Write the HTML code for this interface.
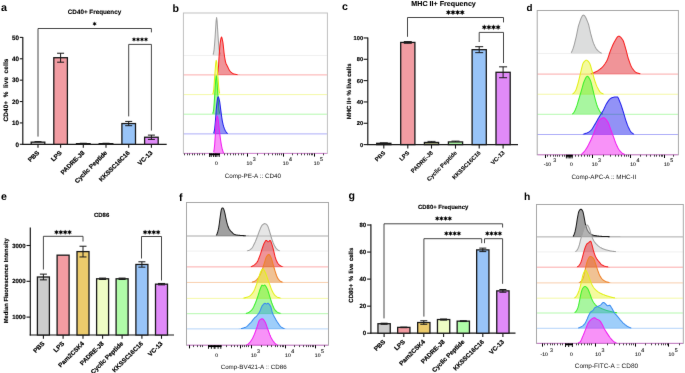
<!DOCTYPE html>
<html><head><meta charset="utf-8"><style>
html,body{margin:0;padding:0;background:#fff;}
svg{display:block;}
#w{width:685px;height:373px;overflow:hidden;}
text{font-family:"Liberation Sans", sans-serif;text-rendering:geometricPrecision;}
</style></head><body>
<div id="w"><svg width="685" height="373" viewBox="0 0 685 373">
<defs><filter id="bl" x="0" y="0" width="1" height="1" color-interpolation-filters="sRGB"><feConvolveMatrix order="3" kernelMatrix="0.0035 0.0587 0.0035 0.0587 1.0000 0.0587 0.0035 0.0587 0.0035" edgeMode="duplicate"/></filter></defs>
<g filter="url(#bl)">
<rect width="685" height="373" fill="#fff"/>
<text x="0.9" y="11.2" font-size="10.8" font-weight="bold" text-anchor="start" fill="#000" >a</text>
<text x="172.4" y="11.7" font-size="10.6" font-weight="bold" text-anchor="start" fill="#000" >b</text>
<text x="342" y="10" font-size="10.6" font-weight="bold" text-anchor="start" fill="#000" >c</text>
<text x="526.4" y="11.1" font-size="9.8" font-weight="bold" text-anchor="start" fill="#000" >d</text>
<text x="0.9" y="199.7" font-size="10.6" font-weight="bold" text-anchor="start" fill="#000" >e</text>
<text x="179" y="201" font-size="10.6" font-weight="bold" text-anchor="start" fill="#000" >f</text>
<text x="348.4" y="199.1" font-size="10.6" font-weight="bold" text-anchor="start" fill="#000" >g</text>
<text x="524" y="200" font-size="10.3" font-weight="bold" text-anchor="start" fill="#000" >h</text>
<line x1="22.8" y1="36.9" x2="22.8" y2="144.8" stroke="#1a1a1a" stroke-width="1.2" />
<line x1="19.8" y1="144.3" x2="22.8" y2="144.3" stroke="#1a1a1a" stroke-width="1.1" />
<text x="18.9" y="146.57" font-size="6.3" font-weight="bold" text-anchor="end" fill="#000" stroke="#000" stroke-width="0.15">0</text>
<line x1="19.8" y1="122.92" x2="22.8" y2="122.92" stroke="#1a1a1a" stroke-width="1.1" />
<text x="18.9" y="125.19" font-size="6.3" font-weight="bold" text-anchor="end" fill="#000" stroke="#000" stroke-width="0.15">10</text>
<line x1="19.8" y1="101.54" x2="22.8" y2="101.54" stroke="#1a1a1a" stroke-width="1.1" />
<text x="18.9" y="103.81" font-size="6.3" font-weight="bold" text-anchor="end" fill="#000" stroke="#000" stroke-width="0.15">20</text>
<line x1="19.8" y1="80.16" x2="22.8" y2="80.16" stroke="#1a1a1a" stroke-width="1.1" />
<text x="18.9" y="82.43" font-size="6.3" font-weight="bold" text-anchor="end" fill="#000" stroke="#000" stroke-width="0.15">30</text>
<line x1="19.8" y1="58.78" x2="22.8" y2="58.78" stroke="#1a1a1a" stroke-width="1.1" />
<text x="18.9" y="61.05" font-size="6.3" font-weight="bold" text-anchor="end" fill="#000" stroke="#000" stroke-width="0.15">40</text>
<line x1="19.8" y1="37.4" x2="22.8" y2="37.4" stroke="#1a1a1a" stroke-width="1.1" />
<text x="18.9" y="39.67" font-size="6.3" font-weight="bold" text-anchor="end" fill="#000" stroke="#000" stroke-width="0.15">50</text>
<line x1="22.2" y1="144.3" x2="166.7" y2="144.3" stroke="#1a1a1a" stroke-width="1.2" />
<line x1="38" y1="144.3" x2="38" y2="147.7" stroke="#1a1a1a" stroke-width="1.1" />
<rect x="31.2" y="142.16" width="13.6" height="2.14" fill="#e4e4e4" stroke="#1a1a1a" stroke-width="1.3"/>
<line x1="38" y1="141.52" x2="38" y2="142.16" stroke="#1a1a1a" stroke-width="0.9" />
<line x1="34.5" y1="141.52" x2="41.5" y2="141.52" stroke="#1a1a1a" stroke-width="0.9" />
<text transform="translate(39.6,153.2) rotate(-45)" font-size="6.3" font-weight="bold" text-anchor="end" stroke="#000" stroke-width="0.18">PBS</text>
<line x1="60.6" y1="144.3" x2="60.6" y2="147.7" stroke="#1a1a1a" stroke-width="1.1" />
<rect x="53.8" y="57.71" width="13.6" height="86.59" fill="#f29ca2" stroke="#1a1a1a" stroke-width="1.3"/>
<line x1="60.6" y1="53.22" x2="60.6" y2="62.2" stroke="#1a1a1a" stroke-width="1" />
<line x1="57.1" y1="53.22" x2="64.1" y2="53.22" stroke="#1a1a1a" stroke-width="1" />
<line x1="57.1" y1="62.2" x2="64.1" y2="62.2" stroke="#1a1a1a" stroke-width="1" />
<text transform="translate(62.2,153.2) rotate(-45)" font-size="6.3" font-weight="bold" text-anchor="end" stroke="#000" stroke-width="0.18">LPS</text>
<line x1="83.3" y1="144.3" x2="83.3" y2="147.7" stroke="#1a1a1a" stroke-width="1.1" />
<rect x="76.5" y="143.66" width="13.6" height="0.64" fill="#eee" stroke="#1a1a1a" stroke-width="1.3"/>
<line x1="83.3" y1="143.23" x2="83.3" y2="143.66" stroke="#1a1a1a" stroke-width="0.9" />
<line x1="79.8" y1="143.23" x2="86.8" y2="143.23" stroke="#1a1a1a" stroke-width="0.9" />
<text transform="translate(84.9,153.2) rotate(-45)" font-size="6.3" font-weight="bold" text-anchor="end" stroke="#000" stroke-width="0.18">PADRE-J8</text>
<line x1="106" y1="144.3" x2="106" y2="147.7" stroke="#1a1a1a" stroke-width="1.1" />
<rect x="99.2" y="143.66" width="13.6" height="0.64" fill="#eee" stroke="#1a1a1a" stroke-width="1.3"/>
<line x1="106" y1="143.23" x2="106" y2="143.66" stroke="#1a1a1a" stroke-width="0.9" />
<line x1="102.5" y1="143.23" x2="109.5" y2="143.23" stroke="#1a1a1a" stroke-width="0.9" />
<text transform="translate(107.6,153.2) rotate(-45)" font-size="6.3" font-weight="bold" text-anchor="end" stroke="#000" stroke-width="0.18">Cyclic Peptide</text>
<line x1="128.7" y1="144.3" x2="128.7" y2="147.7" stroke="#1a1a1a" stroke-width="1.1" />
<rect x="121.9" y="123.56" width="13.6" height="20.74" fill="#98c4f8" stroke="#1a1a1a" stroke-width="1.3"/>
<line x1="128.7" y1="121.42" x2="128.7" y2="125.7" stroke="#1a1a1a" stroke-width="1" />
<line x1="125.2" y1="121.42" x2="132.2" y2="121.42" stroke="#1a1a1a" stroke-width="1" />
<line x1="125.2" y1="125.7" x2="132.2" y2="125.7" stroke="#1a1a1a" stroke-width="1" />
<text transform="translate(130.3,153.2) rotate(-45)" font-size="6.3" font-weight="bold" text-anchor="end" stroke="#000" stroke-width="0.18">KKSSC16C16</text>
<line x1="151.4" y1="144.3" x2="151.4" y2="147.7" stroke="#1a1a1a" stroke-width="1.1" />
<rect x="144.6" y="137.24" width="13.6" height="7.06" fill="#e08af8" stroke="#1a1a1a" stroke-width="1.3"/>
<line x1="151.4" y1="135.11" x2="151.4" y2="139.38" stroke="#1a1a1a" stroke-width="1" />
<line x1="147.9" y1="135.11" x2="154.9" y2="135.11" stroke="#1a1a1a" stroke-width="1" />
<line x1="147.9" y1="139.38" x2="154.9" y2="139.38" stroke="#1a1a1a" stroke-width="1" />
<text transform="translate(153,153.2) rotate(-45)" font-size="6.3" font-weight="bold" text-anchor="end" stroke="#000" stroke-width="0.18">VC-13</text>
<polyline points="38,136.6 38,28.5 151.4,28.5 151.4,32.4" fill="none" stroke="#333" stroke-width="0.9"/>
<path d="M94.6,21.8L94.12,22.97L92.87,22.8L93.64,23.8L92.87,24.8L94.12,24.63L94.6,25.8L95.08,24.63L96.33,24.8L95.56,23.8L96.33,22.8L95.08,22.97Z" fill="#000" stroke="#000" stroke-width="0.25"/>
<polyline points="128.7,116.4 128.7,44.4 151.4,44.4 151.4,130.6" fill="none" stroke="#333" stroke-width="0.9"/>
<path d="M134,37.4L133.52,38.57L132.27,38.4L133.04,39.4L132.27,40.4L133.52,40.23L134,41.4L134.48,40.23L135.73,40.4L134.96,39.4L135.73,38.4L134.48,38.57ZM138,37.4L137.52,38.57L136.27,38.4L137.04,39.4L136.27,40.4L137.52,40.23L138,41.4L138.48,40.23L139.73,40.4L138.96,39.4L139.73,38.4L138.48,38.57ZM142,37.4L141.52,38.57L140.27,38.4L141.04,39.4L140.27,40.4L141.52,40.23L142,41.4L142.48,40.23L143.73,40.4L142.96,39.4L143.73,38.4L142.48,38.57ZM146,37.4L145.52,38.57L144.27,38.4L145.04,39.4L144.27,40.4L145.52,40.23L146,41.4L146.48,40.23L147.73,40.4L146.96,39.4L147.73,38.4L146.48,38.57Z" fill="#000" stroke="#000" stroke-width="0.25"/>
<text x="94.5" y="14.3" font-size="6.3" font-weight="bold" text-anchor="middle" fill="#000" stroke="#000" stroke-width="0.12">CD40+ Frequency</text>
<text transform="translate(8.1,90) rotate(-90)" font-size="6.4" font-weight="bold" text-anchor="middle" stroke="#000" stroke-width="0.15" word-spacing="1.5" letter-spacing="0.15">CD40+ % live cells</text>
<line x1="367.8" y1="37.4" x2="367.8" y2="145.1" stroke="#1a1a1a" stroke-width="1.2" />
<line x1="363.6" y1="144.6" x2="367.8" y2="144.6" stroke="#1a1a1a" stroke-width="1.1" />
<text x="363.1" y="146.65" font-size="5.7" font-weight="bold" text-anchor="end" fill="#000" stroke="#000" stroke-width="0.15">0</text>
<line x1="363.6" y1="123.27" x2="367.8" y2="123.27" stroke="#1a1a1a" stroke-width="1.1" />
<text x="363.1" y="125.32" font-size="5.7" font-weight="bold" text-anchor="end" fill="#000" stroke="#000" stroke-width="0.15">20</text>
<line x1="363.6" y1="101.94" x2="367.8" y2="101.94" stroke="#1a1a1a" stroke-width="1.1" />
<text x="363.1" y="103.99" font-size="5.7" font-weight="bold" text-anchor="end" fill="#000" stroke="#000" stroke-width="0.15">40</text>
<line x1="363.6" y1="80.61" x2="367.8" y2="80.61" stroke="#1a1a1a" stroke-width="1.1" />
<text x="363.1" y="82.66" font-size="5.7" font-weight="bold" text-anchor="end" fill="#000" stroke="#000" stroke-width="0.15">60</text>
<line x1="363.6" y1="59.28" x2="367.8" y2="59.28" stroke="#1a1a1a" stroke-width="1.1" />
<text x="363.1" y="61.33" font-size="5.7" font-weight="bold" text-anchor="end" fill="#000" stroke="#000" stroke-width="0.15">80</text>
<line x1="363.6" y1="37.95" x2="367.8" y2="37.95" stroke="#1a1a1a" stroke-width="1.1" />
<text x="363.1" y="40" font-size="5.7" font-weight="bold" text-anchor="end" fill="#000" stroke="#000" stroke-width="0.15">100</text>
<line x1="367.2" y1="144.6" x2="518" y2="144.6" stroke="#1a1a1a" stroke-width="1.2" />
<line x1="383.8" y1="144.6" x2="383.8" y2="148.6" stroke="#1a1a1a" stroke-width="1.1" />
<rect x="376.7" y="143.32" width="14.2" height="1.28" fill="#e4e4e4" stroke="#1a1a1a" stroke-width="1.3"/>
<line x1="383.8" y1="142.79" x2="383.8" y2="143.32" stroke="#1a1a1a" stroke-width="0.9" />
<line x1="379.8" y1="142.79" x2="387.8" y2="142.79" stroke="#1a1a1a" stroke-width="0.9" />
<text transform="translate(385.7,153.2) rotate(-45)" font-size="5.85" font-weight="bold" text-anchor="end" stroke="#000" stroke-width="0.08">PBS</text>
<line x1="407.8" y1="144.6" x2="407.8" y2="148.6" stroke="#1a1a1a" stroke-width="1.1" />
<rect x="400.7" y="42.43" width="14.2" height="102.17" fill="#f29ca2" stroke="#1a1a1a" stroke-width="1.3"/>
<line x1="407.8" y1="41.58" x2="407.8" y2="43.28" stroke="#1a1a1a" stroke-width="1" />
<line x1="403.8" y1="41.58" x2="411.8" y2="41.58" stroke="#1a1a1a" stroke-width="1" />
<line x1="403.8" y1="43.28" x2="411.8" y2="43.28" stroke="#1a1a1a" stroke-width="1" />
<text transform="translate(409.7,153.2) rotate(-45)" font-size="5.85" font-weight="bold" text-anchor="end" stroke="#000" stroke-width="0.08">LPS</text>
<line x1="431.5" y1="144.6" x2="431.5" y2="148.6" stroke="#1a1a1a" stroke-width="1.1" />
<rect x="424.4" y="142.47" width="14.2" height="2.13" fill="#a8ac80" stroke="#1a1a1a" stroke-width="1.3"/>
<line x1="431.5" y1="141.4" x2="431.5" y2="142.47" stroke="#1a1a1a" stroke-width="0.9" />
<line x1="427.5" y1="141.4" x2="435.5" y2="141.4" stroke="#1a1a1a" stroke-width="0.9" />
<text transform="translate(433.4,153.2) rotate(-45)" font-size="5.85" font-weight="bold" text-anchor="end" stroke="#000" stroke-width="0.08">PADRE-J8</text>
<line x1="455.5" y1="144.6" x2="455.5" y2="148.6" stroke="#1a1a1a" stroke-width="1.1" />
<rect x="448.4" y="141.93" width="14.2" height="2.67" fill="#b0fca8" stroke="#1a1a1a" stroke-width="1.3"/>
<line x1="455.5" y1="141.08" x2="455.5" y2="141.93" stroke="#1a1a1a" stroke-width="0.9" />
<line x1="451.5" y1="141.08" x2="459.5" y2="141.08" stroke="#1a1a1a" stroke-width="0.9" />
<text transform="translate(457.4,153.2) rotate(-45)" font-size="5.85" font-weight="bold" text-anchor="end" stroke="#000" stroke-width="0.08">Cyclic Peptide</text>
<line x1="479.2" y1="144.6" x2="479.2" y2="148.6" stroke="#1a1a1a" stroke-width="1.1" />
<rect x="472.1" y="49.68" width="14.2" height="94.92" fill="#98c4f8" stroke="#1a1a1a" stroke-width="1.3"/>
<line x1="479.2" y1="46.7" x2="479.2" y2="52.67" stroke="#1a1a1a" stroke-width="1" />
<line x1="475.2" y1="46.7" x2="483.2" y2="46.7" stroke="#1a1a1a" stroke-width="1" />
<line x1="475.2" y1="52.67" x2="483.2" y2="52.67" stroke="#1a1a1a" stroke-width="1" />
<text transform="translate(481.1,153.2) rotate(-45)" font-size="5.85" font-weight="bold" text-anchor="end" stroke="#000" stroke-width="0.08">KKSSC16C16</text>
<line x1="503.1" y1="144.6" x2="503.1" y2="148.6" stroke="#1a1a1a" stroke-width="1.1" />
<rect x="496" y="72.29" width="14.2" height="72.31" fill="#e08af8" stroke="#1a1a1a" stroke-width="1.3"/>
<line x1="503.1" y1="66.85" x2="503.1" y2="77.73" stroke="#1a1a1a" stroke-width="1" />
<line x1="499.1" y1="66.85" x2="507.1" y2="66.85" stroke="#1a1a1a" stroke-width="1" />
<line x1="499.1" y1="77.73" x2="507.1" y2="77.73" stroke="#1a1a1a" stroke-width="1" />
<text transform="translate(505,153.2) rotate(-45)" font-size="5.85" font-weight="bold" text-anchor="end" stroke="#000" stroke-width="0.08">VC-13</text>
<polyline points="407.5,36.8 407.5,17.5 503.5,17.5 503.5,22.4" fill="none" stroke="#333" stroke-width="0.9"/>
<path d="M448.4,9.9L447.8,11.36L446.23,11.15L447.2,12.4L446.23,13.65L447.8,13.44L448.4,14.9L449,13.44L450.57,13.65L449.6,12.4L450.57,11.15L449,11.36ZM453,9.9L452.4,11.36L450.83,11.15L451.8,12.4L450.83,13.65L452.4,13.44L453,14.9L453.6,13.44L455.17,13.65L454.2,12.4L455.17,11.15L453.6,11.36ZM457.6,9.9L457,11.36L455.43,11.15L456.4,12.4L455.43,13.65L457,13.44L457.6,14.9L458.2,13.44L459.77,13.65L458.8,12.4L459.77,11.15L458.2,11.36ZM462.2,9.9L461.6,11.36L460.03,11.15L461,12.4L460.03,13.65L461.6,13.44L462.2,14.9L462.8,13.44L464.37,13.65L463.4,12.4L464.37,11.15L462.8,11.36Z" fill="#000" stroke="#000" stroke-width="0.25"/>
<polyline points="479.2,42 479.2,32.4 503.5,32.4 503.5,63" fill="none" stroke="#333" stroke-width="0.9"/>
<path d="M484.3,24.7L483.7,26.16L482.13,25.95L483.1,27.2L482.13,28.45L483.7,28.24L484.3,29.7L484.9,28.24L486.47,28.45L485.5,27.2L486.47,25.95L484.9,26.16ZM488.9,24.7L488.3,26.16L486.73,25.95L487.7,27.2L486.73,28.45L488.3,28.24L488.9,29.7L489.5,28.24L491.07,28.45L490.1,27.2L491.07,25.95L489.5,26.16ZM493.5,24.7L492.9,26.16L491.33,25.95L492.3,27.2L491.33,28.45L492.9,28.24L493.5,29.7L494.1,28.24L495.67,28.45L494.7,27.2L495.67,25.95L494.1,26.16ZM498.1,24.7L497.5,26.16L495.93,25.95L496.9,27.2L495.93,28.45L497.5,28.24L498.1,29.7L498.7,28.24L500.27,28.45L499.3,27.2L500.27,25.95L498.7,26.16Z" fill="#000" stroke="#000" stroke-width="0.25"/>
<text x="443.6" y="5.6" font-size="7.15" font-weight="bold" text-anchor="middle" fill="#000" stroke="#000" stroke-width="0.12">MHC II+ Frequency</text>
<text transform="translate(350.6,91.4) rotate(-90)" font-size="6" font-weight="bold" text-anchor="middle" stroke="#000" stroke-width="0.15" >MHC II+ % live cells</text>
<line x1="30.3" y1="227.5" x2="30.3" y2="335.5" stroke="#1a1a1a" stroke-width="1.2" />
<line x1="26.5" y1="317.1" x2="30.3" y2="317.1" stroke="#1a1a1a" stroke-width="1.1" />
<text x="25.5" y="319.26" font-size="6" font-weight="bold" text-anchor="end" fill="#000" stroke="#000" stroke-width="0.15">1000</text>
<line x1="26.5" y1="281.3" x2="30.3" y2="281.3" stroke="#1a1a1a" stroke-width="1.1" />
<text x="25.5" y="283.46" font-size="6" font-weight="bold" text-anchor="end" fill="#000" stroke="#000" stroke-width="0.15">2000</text>
<line x1="26.5" y1="245.5" x2="30.3" y2="245.5" stroke="#1a1a1a" stroke-width="1.1" />
<text x="25.5" y="247.66" font-size="6" font-weight="bold" text-anchor="end" fill="#000" stroke="#000" stroke-width="0.15">3000</text>
<line x1="29.7" y1="335" x2="174" y2="335" stroke="#1a1a1a" stroke-width="1.2" />
<line x1="43.4" y1="335" x2="43.4" y2="338.8" stroke="#1a1a1a" stroke-width="1.1" />
<rect x="37.4" y="277" width="12" height="58" fill="#cccccc" stroke="#1a1a1a" stroke-width="1.3"/>
<line x1="43.4" y1="274.14" x2="43.4" y2="279.87" stroke="#1a1a1a" stroke-width="1" />
<line x1="39.9" y1="274.14" x2="46.9" y2="274.14" stroke="#1a1a1a" stroke-width="1" />
<line x1="39.9" y1="279.87" x2="46.9" y2="279.87" stroke="#1a1a1a" stroke-width="1" />
<text transform="translate(45,344) rotate(-45)" font-size="6.3" font-weight="bold" text-anchor="end" stroke="#000" stroke-width="0.18">PBS</text>
<line x1="63.1" y1="335" x2="63.1" y2="338.8" stroke="#1a1a1a" stroke-width="1.1" />
<rect x="57.1" y="255.17" width="12" height="79.83" fill="#f29ca2" stroke="#1a1a1a" stroke-width="1.3"/>
<text transform="translate(64.7,344) rotate(-45)" font-size="6.3" font-weight="bold" text-anchor="end" stroke="#000" stroke-width="0.18">LPS</text>
<line x1="83" y1="335" x2="83" y2="338.8" stroke="#1a1a1a" stroke-width="1.1" />
<rect x="77" y="251.59" width="12" height="83.41" fill="#eccb6c" stroke="#1a1a1a" stroke-width="1.3"/>
<line x1="83" y1="246.22" x2="83" y2="256.96" stroke="#1a1a1a" stroke-width="1" />
<line x1="79.5" y1="246.22" x2="86.5" y2="246.22" stroke="#1a1a1a" stroke-width="1" />
<line x1="79.5" y1="256.96" x2="86.5" y2="256.96" stroke="#1a1a1a" stroke-width="1" />
<text transform="translate(84.6,344) rotate(-45)" font-size="6.3" font-weight="bold" text-anchor="end" stroke="#000" stroke-width="0.18">Pam2CSK4</text>
<line x1="102.6" y1="335" x2="102.6" y2="338.8" stroke="#1a1a1a" stroke-width="1.1" />
<rect x="96.6" y="278.79" width="12" height="56.21" fill="#eefcc4" stroke="#1a1a1a" stroke-width="1.3"/>
<line x1="102.6" y1="278.08" x2="102.6" y2="279.51" stroke="#1a1a1a" stroke-width="1" />
<line x1="99.1" y1="278.08" x2="106.1" y2="278.08" stroke="#1a1a1a" stroke-width="1" />
<line x1="99.1" y1="279.51" x2="106.1" y2="279.51" stroke="#1a1a1a" stroke-width="1" />
<text transform="translate(104.2,344) rotate(-45)" font-size="6.3" font-weight="bold" text-anchor="end" stroke="#000" stroke-width="0.18">PADRE-J8</text>
<line x1="122.1" y1="335" x2="122.1" y2="338.8" stroke="#1a1a1a" stroke-width="1.1" />
<rect x="116.1" y="278.79" width="12" height="56.21" fill="#b0fca8" stroke="#1a1a1a" stroke-width="1.3"/>
<line x1="122.1" y1="278.08" x2="122.1" y2="279.51" stroke="#1a1a1a" stroke-width="1" />
<line x1="118.6" y1="278.08" x2="125.6" y2="278.08" stroke="#1a1a1a" stroke-width="1" />
<line x1="118.6" y1="279.51" x2="125.6" y2="279.51" stroke="#1a1a1a" stroke-width="1" />
<text transform="translate(123.7,344) rotate(-45)" font-size="6.3" font-weight="bold" text-anchor="end" stroke="#000" stroke-width="0.18">Cyclic Peptide</text>
<line x1="141.9" y1="335" x2="141.9" y2="338.8" stroke="#1a1a1a" stroke-width="1.1" />
<rect x="135.9" y="264.47" width="12" height="70.53" fill="#98c4f8" stroke="#1a1a1a" stroke-width="1.3"/>
<line x1="141.9" y1="261.79" x2="141.9" y2="267.16" stroke="#1a1a1a" stroke-width="1" />
<line x1="138.4" y1="261.79" x2="145.4" y2="261.79" stroke="#1a1a1a" stroke-width="1" />
<line x1="138.4" y1="267.16" x2="145.4" y2="267.16" stroke="#1a1a1a" stroke-width="1" />
<text transform="translate(143.5,344) rotate(-45)" font-size="6.3" font-weight="bold" text-anchor="end" stroke="#000" stroke-width="0.18">KKSSC16C16</text>
<line x1="161.5" y1="335" x2="161.5" y2="338.8" stroke="#1a1a1a" stroke-width="1.1" />
<rect x="155.5" y="284.16" width="12" height="50.84" fill="#e08af8" stroke="#1a1a1a" stroke-width="1.3"/>
<line x1="161.5" y1="283.45" x2="161.5" y2="284.88" stroke="#1a1a1a" stroke-width="1" />
<line x1="158" y1="283.45" x2="165" y2="283.45" stroke="#1a1a1a" stroke-width="1" />
<line x1="158" y1="284.88" x2="165" y2="284.88" stroke="#1a1a1a" stroke-width="1" />
<text transform="translate(163.1,344) rotate(-45)" font-size="6.3" font-weight="bold" text-anchor="end" stroke="#000" stroke-width="0.18">VC-13</text>
<polyline points="43.4,269.5 43.4,236.3 83,236.3 83,241.5" fill="none" stroke="#333" stroke-width="0.9"/>
<path d="M56.48,229.9L55.92,231.24L54.48,231.05L55.37,232.2L54.48,233.35L55.92,233.16L56.48,234.5L57.03,233.16L58.47,233.35L57.58,232.2L58.47,231.05L57.03,231.24ZM60.83,229.9L60.27,231.24L58.83,231.05L59.72,232.2L58.83,233.35L60.27,233.16L60.83,234.5L61.38,233.16L62.82,233.35L61.93,232.2L62.82,231.05L61.38,231.24ZM65.17,229.9L64.62,231.24L63.18,231.05L64.07,232.2L63.18,233.35L64.62,233.16L65.17,234.5L65.73,233.16L67.17,233.35L66.28,232.2L67.17,231.05L65.73,231.24ZM69.53,229.9L68.97,231.24L67.53,231.05L68.42,232.2L67.53,233.35L68.97,233.16L69.53,234.5L70.08,233.16L71.52,233.35L70.63,232.2L71.52,231.05L70.08,231.24Z" fill="#000" stroke="#000" stroke-width="0.25"/>
<polyline points="141.5,258.5 141.5,236.5 161.5,236.5 161.5,280.5" fill="none" stroke="#333" stroke-width="0.9"/>
<path d="M145.07,229.9L144.52,231.24L143.08,231.05L143.97,232.2L143.08,233.35L144.52,233.16L145.07,234.5L145.63,233.16L147.07,233.35L146.18,232.2L147.07,231.05L145.63,231.24ZM149.42,229.9L148.87,231.24L147.43,231.05L148.32,232.2L147.43,233.35L148.87,233.16L149.42,234.5L149.98,233.16L151.42,233.35L150.53,232.2L151.42,231.05L149.98,231.24ZM153.77,229.9L153.22,231.24L151.78,231.05L152.67,232.2L151.78,233.35L153.22,233.16L153.77,234.5L154.33,233.16L155.77,233.35L154.88,232.2L155.77,231.05L154.33,231.24ZM158.12,229.9L157.57,231.24L156.13,231.05L157.02,232.2L156.13,233.35L157.57,233.16L158.12,234.5L158.68,233.16L160.12,233.35L159.23,232.2L160.12,231.05L158.68,231.24Z" fill="#000" stroke="#000" stroke-width="0.25"/>
<text x="101.6" y="216.7" font-size="6" font-weight="bold" text-anchor="middle" fill="#000" stroke="#000" stroke-width="0.12">CD86</text>
<text transform="translate(8.1,280.8) rotate(-90)" font-size="5.85" font-weight="bold" text-anchor="middle" stroke="#000" stroke-width="0.15" >Median Fluorescence Intensity</text>
<line x1="370.9" y1="224.2" x2="370.9" y2="333.7" stroke="#1a1a1a" stroke-width="1.2" />
<line x1="367.1" y1="333.2" x2="370.9" y2="333.2" stroke="#1a1a1a" stroke-width="1.1" />
<text x="366.1" y="335.36" font-size="6" font-weight="bold" text-anchor="end" fill="#000" stroke="#000" stroke-width="0.15">0</text>
<line x1="367.1" y1="306.15" x2="370.9" y2="306.15" stroke="#1a1a1a" stroke-width="1.1" />
<text x="366.1" y="308.31" font-size="6" font-weight="bold" text-anchor="end" fill="#000" stroke="#000" stroke-width="0.15">20</text>
<line x1="367.1" y1="279.1" x2="370.9" y2="279.1" stroke="#1a1a1a" stroke-width="1.1" />
<text x="366.1" y="281.26" font-size="6" font-weight="bold" text-anchor="end" fill="#000" stroke="#000" stroke-width="0.15">40</text>
<line x1="367.1" y1="252.05" x2="370.9" y2="252.05" stroke="#1a1a1a" stroke-width="1.1" />
<text x="366.1" y="254.21" font-size="6" font-weight="bold" text-anchor="end" fill="#000" stroke="#000" stroke-width="0.15">60</text>
<line x1="367.1" y1="225" x2="370.9" y2="225" stroke="#1a1a1a" stroke-width="1.1" />
<text x="366.1" y="227.16" font-size="6" font-weight="bold" text-anchor="end" fill="#000" stroke="#000" stroke-width="0.15">80</text>
<line x1="370.3" y1="333.2" x2="515.5" y2="333.2" stroke="#1a1a1a" stroke-width="1.2" />
<line x1="384.1" y1="333.2" x2="384.1" y2="337" stroke="#1a1a1a" stroke-width="1.1" />
<rect x="377.95" y="323.73" width="12.3" height="9.47" fill="#cccccc" stroke="#1a1a1a" stroke-width="1.3"/>
<line x1="384.1" y1="323.19" x2="384.1" y2="324.27" stroke="#1a1a1a" stroke-width="1" />
<line x1="380.6" y1="323.19" x2="387.6" y2="323.19" stroke="#1a1a1a" stroke-width="1" />
<line x1="380.6" y1="324.27" x2="387.6" y2="324.27" stroke="#1a1a1a" stroke-width="1" />
<text transform="translate(385.7,342.2) rotate(-45)" font-size="6.3" font-weight="bold" text-anchor="end" stroke="#000" stroke-width="0.18">PBS</text>
<line x1="403.8" y1="333.2" x2="403.8" y2="337" stroke="#1a1a1a" stroke-width="1.1" />
<rect x="397.65" y="327.38" width="12.3" height="5.82" fill="#f29ca2" stroke="#1a1a1a" stroke-width="1.3"/>
<line x1="403.8" y1="327.11" x2="403.8" y2="327.65" stroke="#1a1a1a" stroke-width="1" />
<line x1="400.3" y1="327.11" x2="407.3" y2="327.11" stroke="#1a1a1a" stroke-width="1" />
<line x1="400.3" y1="327.65" x2="407.3" y2="327.65" stroke="#1a1a1a" stroke-width="1" />
<text transform="translate(405.4,342.2) rotate(-45)" font-size="6.3" font-weight="bold" text-anchor="end" stroke="#000" stroke-width="0.18">LPS</text>
<line x1="423.8" y1="333.2" x2="423.8" y2="337" stroke="#1a1a1a" stroke-width="1.1" />
<rect x="417.65" y="322.52" width="12.3" height="10.68" fill="#eccb6c" stroke="#1a1a1a" stroke-width="1.3"/>
<line x1="423.8" y1="320.76" x2="423.8" y2="324.27" stroke="#1a1a1a" stroke-width="1" />
<line x1="420.3" y1="320.76" x2="427.3" y2="320.76" stroke="#1a1a1a" stroke-width="1" />
<line x1="420.3" y1="324.27" x2="427.3" y2="324.27" stroke="#1a1a1a" stroke-width="1" />
<text transform="translate(425.4,342.2) rotate(-45)" font-size="6.3" font-weight="bold" text-anchor="end" stroke="#000" stroke-width="0.18">Pam2CSK4</text>
<line x1="443.6" y1="333.2" x2="443.6" y2="337" stroke="#1a1a1a" stroke-width="1.1" />
<rect x="437.45" y="319.54" width="12.3" height="13.66" fill="#eefcc4" stroke="#1a1a1a" stroke-width="1.3"/>
<line x1="443.6" y1="319" x2="443.6" y2="320.08" stroke="#1a1a1a" stroke-width="1" />
<line x1="440.1" y1="319" x2="447.1" y2="319" stroke="#1a1a1a" stroke-width="1" />
<line x1="440.1" y1="320.08" x2="447.1" y2="320.08" stroke="#1a1a1a" stroke-width="1" />
<text transform="translate(445.2,342.2) rotate(-45)" font-size="6.3" font-weight="bold" text-anchor="end" stroke="#000" stroke-width="0.18">PADRE-J8</text>
<line x1="463.3" y1="333.2" x2="463.3" y2="337" stroke="#1a1a1a" stroke-width="1.1" />
<rect x="457.15" y="321.16" width="12.3" height="12.04" fill="#b0fca8" stroke="#1a1a1a" stroke-width="1.3"/>
<line x1="463.3" y1="320.76" x2="463.3" y2="321.57" stroke="#1a1a1a" stroke-width="1" />
<line x1="459.8" y1="320.76" x2="466.8" y2="320.76" stroke="#1a1a1a" stroke-width="1" />
<line x1="459.8" y1="321.57" x2="466.8" y2="321.57" stroke="#1a1a1a" stroke-width="1" />
<text transform="translate(464.9,342.2) rotate(-45)" font-size="6.3" font-weight="bold" text-anchor="end" stroke="#000" stroke-width="0.18">Cyclic Peptide</text>
<line x1="482.8" y1="333.2" x2="482.8" y2="337" stroke="#1a1a1a" stroke-width="1.1" />
<rect x="476.65" y="249.89" width="12.3" height="83.31" fill="#98c4f8" stroke="#1a1a1a" stroke-width="1.3"/>
<line x1="482.8" y1="248.13" x2="482.8" y2="251.64" stroke="#1a1a1a" stroke-width="1" />
<line x1="479.3" y1="248.13" x2="486.3" y2="248.13" stroke="#1a1a1a" stroke-width="1" />
<line x1="479.3" y1="251.64" x2="486.3" y2="251.64" stroke="#1a1a1a" stroke-width="1" />
<text transform="translate(484.4,342.2) rotate(-45)" font-size="6.3" font-weight="bold" text-anchor="end" stroke="#000" stroke-width="0.18">KKSSC16C16</text>
<line x1="502.9" y1="333.2" x2="502.9" y2="337" stroke="#1a1a1a" stroke-width="1.1" />
<rect x="496.75" y="290.87" width="12.3" height="42.33" fill="#e08af8" stroke="#1a1a1a" stroke-width="1.3"/>
<line x1="502.9" y1="289.51" x2="502.9" y2="292.22" stroke="#1a1a1a" stroke-width="1" />
<line x1="499.4" y1="289.51" x2="506.4" y2="289.51" stroke="#1a1a1a" stroke-width="1" />
<line x1="499.4" y1="292.22" x2="506.4" y2="292.22" stroke="#1a1a1a" stroke-width="1" />
<text transform="translate(504.5,342.2) rotate(-45)" font-size="6.3" font-weight="bold" text-anchor="end" stroke="#000" stroke-width="0.18">VC-13</text>
<polyline points="384,318.4 384,223.8 502.6,223.8 502.6,227.5" fill="none" stroke="#333" stroke-width="0.9"/>
<path d="M437.2,216.3L436.67,217.59L435.29,217.4L436.14,218.5L435.29,219.6L436.67,219.41L437.2,220.7L437.73,219.41L439.11,219.6L438.26,218.5L439.11,217.4L437.73,217.59ZM441.4,216.3L440.87,217.59L439.49,217.4L440.34,218.5L439.49,219.6L440.87,219.41L441.4,220.7L441.93,219.41L443.31,219.6L442.46,218.5L443.31,217.4L441.93,217.59ZM445.6,216.3L445.07,217.59L443.69,217.4L444.54,218.5L443.69,219.6L445.07,219.41L445.6,220.7L446.13,219.41L447.51,219.6L446.66,218.5L447.51,217.4L446.13,217.59ZM449.8,216.3L449.27,217.59L447.89,217.4L448.74,218.5L447.89,219.6L449.27,219.41L449.8,220.7L450.33,219.41L451.71,219.6L450.86,218.5L451.71,217.4L450.33,217.59Z" fill="#000" stroke="#000" stroke-width="0.25"/>
<polyline points="423.9,316.6 423.9,238.7 481.7,238.7 481.7,243.2" fill="none" stroke="#333" stroke-width="0.9"/>
<path d="M446.3,231.3L445.77,232.59L444.39,232.4L445.24,233.5L444.39,234.6L445.77,234.41L446.3,235.7L446.83,234.41L448.21,234.6L447.36,233.5L448.21,232.4L446.83,232.59ZM450.5,231.3L449.97,232.59L448.59,232.4L449.44,233.5L448.59,234.6L449.97,234.41L450.5,235.7L451.03,234.41L452.41,234.6L451.56,233.5L452.41,232.4L451.03,232.59ZM454.7,231.3L454.17,232.59L452.79,232.4L453.64,233.5L452.79,234.6L454.17,234.41L454.7,235.7L455.23,234.41L456.61,234.6L455.76,233.5L456.61,232.4L455.23,232.59ZM458.9,231.3L458.37,232.59L456.99,232.4L457.84,233.5L456.99,234.6L458.37,234.41L458.9,235.7L459.43,234.41L460.81,234.6L459.96,233.5L460.81,232.4L459.43,232.59Z" fill="#000" stroke="#000" stroke-width="0.25"/>
<polyline points="484.5,243.2 484.5,238.7 502.6,238.7 502.6,283.8" fill="none" stroke="#333" stroke-width="0.9"/>
<path d="M487.3,231.3L486.77,232.59L485.39,232.4L486.24,233.5L485.39,234.6L486.77,234.41L487.3,235.7L487.83,234.41L489.21,234.6L488.36,233.5L489.21,232.4L487.83,232.59ZM491.5,231.3L490.97,232.59L489.59,232.4L490.44,233.5L489.59,234.6L490.97,234.41L491.5,235.7L492.03,234.41L493.41,234.6L492.56,233.5L493.41,232.4L492.03,232.59ZM495.7,231.3L495.17,232.59L493.79,232.4L494.64,233.5L493.79,234.6L495.17,234.41L495.7,235.7L496.23,234.41L497.61,234.6L496.76,233.5L497.61,232.4L496.23,232.59ZM499.9,231.3L499.37,232.59L497.99,232.4L498.84,233.5L497.99,234.6L499.37,234.41L499.9,235.7L500.43,234.41L501.81,234.6L500.96,233.5L501.81,232.4L500.43,232.59Z" fill="#000" stroke="#000" stroke-width="0.25"/>
<text x="443.2" y="208.7" font-size="5.95" font-weight="bold" text-anchor="middle" fill="#000" stroke="#000" stroke-width="0.12">CD80+ Frequency</text>
<text transform="translate(352.6,275.2) rotate(-90)" font-size="6" font-weight="bold" text-anchor="middle" stroke="#000" stroke-width="0.15" word-spacing="0.8">CD80+ % live cells</text>
<rect x="183.4" y="13" width="144" height="140.4" fill="#fff" stroke="#bdbdbd" stroke-width="0.95"/>
<line x1="183.9" y1="55.5" x2="326.9" y2="55.5" stroke="#a0a0a0" stroke-width="0.9" stroke-opacity="0.18"/>
<path d="M212.6,55.5L212.6,55.5L213.1,54.69L213.6,52.65L214.1,49.82L214.6,43.97L215.1,37.17L215.6,28.96L216.1,21.11L216.6,17.6L217.1,21.18L217.6,29.12L218.1,37.23L218.6,43.51L219.1,49.07L219.6,52.11L220.1,54.34L220.6,55.46L220.6,55.5 Z" fill="#c4c4c4" fill-opacity="0.45" stroke="none"/>
<path d="M213.1,54.69L213.6,52.65L214.1,49.82L214.6,43.97L215.1,37.17L215.6,28.96L216.1,21.11L216.6,17.6L217.1,21.18L217.6,29.12L218.1,37.23L218.6,43.51L219.1,49.07L219.6,52.11L220.1,54.34" fill="none" stroke="#a0a0a0" stroke-width="1.05" stroke-linejoin="round"/>
<line x1="183.9" y1="74.9" x2="326.9" y2="74.9" stroke="#f82020" stroke-width="0.9" stroke-opacity="0.42"/>
<path d="M217,74.9L217,74.9L217.5,73.81L218,71.05L218.5,66.54L219,57.43L219.5,50.37L220,44.51L220.5,40.92L221,38.16L221.5,37L222,38L222.5,40.31L223,43.16L223.5,47.64L224,52.53L224.5,56.21L225,59.28L225.5,61.8L226,63.47L226.5,64.62L227,65.56L227.5,66.5L228,67.56L228.5,68.62L229,69.6L229.5,70.4L230,71.04L230.5,71.61L231,72.12L231.5,72.55L232,72.9L232.5,73.19L233,73.46L233.5,73.7L234,73.91L234.5,74.08L235,74.2L235.5,74.3L236,74.4L236.5,74.49L237,74.57L237.5,74.65L238,74.71L238.5,74.77L239,74.82L239.5,74.86L240,74.89L240.5,74.9L240.5,74.9 Z" fill="#de111a" fill-opacity="0.45" stroke="none"/>
<path d="M217.5,73.81L218,71.05L218.5,66.54L219,57.43L219.5,50.37L220,44.51L220.5,40.92L221,38.16L221.5,37L222,38L222.5,40.31L223,43.16L223.5,47.64L224,52.53L224.5,56.21L225,59.28L225.5,61.8L226,63.47L226.5,64.62L227,65.56L227.5,66.5L228,67.56L228.5,68.62L229,69.6L229.5,70.4L230,71.04L230.5,71.61L231,72.12L231.5,72.55L232,72.9L232.5,73.19L233,73.46L233.5,73.7L234,73.91L234.5,74.08L235,74.2L235.5,74.3L236,74.4L236.5,74.49L237,74.57L237.5,74.65" fill="none" stroke="#f82020" stroke-width="1.05" stroke-linejoin="round"/>
<line x1="183.9" y1="94.6" x2="326.9" y2="94.6" stroke="#e2f018" stroke-width="0.9" stroke-opacity="0.42"/>
<path d="M212.2,94.6L212.2,94.6L212.7,94.08L213.2,92.71L213.7,90.19L214.2,83.29L214.7,76.41L215.2,69.76L215.7,63.61L216.2,60.31L216.7,61.85L217.2,67.21L217.7,73.94L218.2,80.04L218.7,86.96L219.2,91.6L219.7,93.43L220.2,94.49L220.2,94.6 Z" fill="#e7f427" fill-opacity="0.45" stroke="none"/>
<path d="M212.7,94.08L213.2,92.71L213.7,90.19L214.2,83.29L214.7,76.41L215.2,69.76L215.7,63.61L216.2,60.31L216.7,61.85L217.2,67.21L217.7,73.94L218.2,80.04L218.7,86.96L219.2,91.6L219.7,93.43" fill="none" stroke="#e2f018" stroke-width="1.05" stroke-linejoin="round"/>
<line x1="183.9" y1="114.2" x2="326.9" y2="114.2" stroke="#3cf02c" stroke-width="0.9" stroke-opacity="0.42"/>
<path d="M212.2,114.2L212.2,114.2L212.7,113.59L213.2,111.98L213.7,109.56L214.2,103L214.7,95.2L215.2,87.59L215.7,79.98L216.2,75.74L216.7,77.69L217.2,84.36L217.7,92.38L218.2,99.65L218.7,107.32L219.2,111.32L219.7,113.53L219.7,114.2 Z" fill="#3eeb2c" fill-opacity="0.45" stroke="none"/>
<path d="M212.7,113.59L213.2,111.98L213.7,109.56L214.2,103L214.7,95.2L215.2,87.59L215.7,79.98L216.2,75.74L216.7,77.69L217.2,84.36L217.7,92.38L218.2,99.65L218.7,107.32L219.2,111.32L219.7,113.53" fill="none" stroke="#3cf02c" stroke-width="1.05" stroke-linejoin="round"/>
<line x1="183.9" y1="133.9" x2="326.9" y2="133.9" stroke="#2424ec" stroke-width="0.9" stroke-opacity="0.42"/>
<path d="M213.2,133.9L213.2,133.9L213.7,133.15L214.2,131.3L214.7,128.61L215.2,123.42L215.7,117.38L216.2,110.29L216.7,105.12L217.2,100.81L217.7,97.63L218.2,96.73L218.7,97.73L219.2,99.62L219.7,101.91L220.2,105.48L220.7,109.62L221.2,113.33L221.7,116.98L222.2,120.3L222.7,122.81L223.2,124.88L223.7,126.66L224.2,128.15L224.7,129.36L225.2,130.41L225.7,131.32L226.2,132.06L226.7,132.6L227.2,133.08L227.7,133.48L228.2,133.77L228.2,133.9 Z" fill="#0d0deb" fill-opacity="0.45" stroke="none"/>
<path d="M213.7,133.15L214.2,131.3L214.7,128.61L215.2,123.42L215.7,117.38L216.2,110.29L216.7,105.12L217.2,100.81L217.7,97.63L218.2,96.73L218.7,97.73L219.2,99.62L219.7,101.91L220.2,105.48L220.7,109.62L221.2,113.33L221.7,116.98L222.2,120.3L222.7,122.81L223.2,124.88L223.7,126.66L224.2,128.15L224.7,129.36L225.2,130.41L225.7,131.32L226.2,132.06L226.7,132.6L227.2,133.08L227.7,133.48" fill="none" stroke="#2424ec" stroke-width="1.05" stroke-linejoin="round"/>
<line x1="183.9" y1="153.4" x2="326.9" y2="153.4" stroke="#f020f0" stroke-width="0.9" stroke-opacity="0.42"/>
<path d="M213.2,153.4L213.2,153.4L213.7,152.06L214.2,149.08L214.7,144.21L215.2,136.85L215.7,128.62L216.2,121.4L216.7,117.63L217.2,115.9L217.7,117.15L218.2,119.83L218.7,123.51L219.2,128.58L219.7,133.07L220.2,137.12L220.7,140.75L221.2,143.91L221.7,146.75L222.2,148.9L222.7,150.52L223.2,151.92L223.7,152.95L223.7,153.4 Z" fill="#ef0def" fill-opacity="0.45" stroke="none"/>
<path d="M213.7,152.06L214.2,149.08L214.7,144.21L215.2,136.85L215.7,128.62L216.2,121.4L216.7,117.63L217.2,115.9L217.7,117.15L218.2,119.83L218.7,123.51L219.2,128.58L219.7,133.07L220.2,137.12L220.7,140.75L221.2,143.91L221.7,146.75L222.2,148.9L222.7,150.52L223.2,151.92L223.7,152.95" fill="none" stroke="#f020f0" stroke-width="1.05" stroke-linejoin="round"/>
<rect x="209" y="153.4" width="10.9" height="1.9" fill="#000"/>
<line x1="209.6" y1="153.4" x2="209.6" y2="157" stroke="#000" stroke-width="0.9" />
<line x1="211.2" y1="153.4" x2="211.2" y2="157" stroke="#000" stroke-width="0.9" />
<line x1="213.6" y1="153.4" x2="213.6" y2="157" stroke="#000" stroke-width="0.9" />
<line x1="215.4" y1="153.4" x2="215.4" y2="157" stroke="#000" stroke-width="0.9" />
<line x1="216.9" y1="153.4" x2="216.9" y2="157" stroke="#000" stroke-width="0.9" />
<line x1="219.2" y1="153.4" x2="219.2" y2="157" stroke="#000" stroke-width="0.9" />
<line x1="247.5" y1="153.4" x2="247.5" y2="156.6" stroke="#000" stroke-width="1" />
<line x1="283.5" y1="153.4" x2="283.5" y2="156.6" stroke="#000" stroke-width="1" />
<line x1="314.5" y1="153.4" x2="314.5" y2="156.6" stroke="#000" stroke-width="1" />
<line x1="184.5" y1="153.4" x2="184.5" y2="155.3" stroke="#333" stroke-width="0.9" />
<line x1="187.5" y1="153.4" x2="187.5" y2="155.3" stroke="#333" stroke-width="0.9" />
<line x1="189.5" y1="153.4" x2="189.5" y2="155.3" stroke="#333" stroke-width="0.9" />
<line x1="192.5" y1="153.4" x2="192.5" y2="155.3" stroke="#333" stroke-width="0.9" />
<line x1="194.5" y1="153.4" x2="194.5" y2="155.3" stroke="#333" stroke-width="0.9" />
<line x1="197.5" y1="153.4" x2="197.5" y2="155.3" stroke="#333" stroke-width="0.9" />
<line x1="199.5" y1="153.4" x2="199.5" y2="155.3" stroke="#333" stroke-width="0.9" />
<line x1="202.5" y1="153.4" x2="202.5" y2="155.3" stroke="#333" stroke-width="0.9" />
<line x1="204.5" y1="153.4" x2="204.5" y2="155.3" stroke="#333" stroke-width="0.9" />
<line x1="224.5" y1="153.4" x2="224.5" y2="155.3" stroke="#333" stroke-width="0.9" />
<line x1="227.5" y1="153.4" x2="227.5" y2="155.3" stroke="#333" stroke-width="0.9" />
<line x1="230.5" y1="153.4" x2="230.5" y2="155.3" stroke="#333" stroke-width="0.9" />
<line x1="233.5" y1="153.4" x2="233.5" y2="155.3" stroke="#333" stroke-width="0.9" />
<line x1="235.5" y1="153.4" x2="235.5" y2="155.3" stroke="#333" stroke-width="0.9" />
<line x1="238.5" y1="153.4" x2="238.5" y2="155.3" stroke="#333" stroke-width="0.9" />
<line x1="241.5" y1="153.4" x2="241.5" y2="155.3" stroke="#333" stroke-width="0.9" />
<line x1="243.5" y1="153.4" x2="243.5" y2="155.3" stroke="#333" stroke-width="0.9" />
<line x1="257.5" y1="153.4" x2="257.5" y2="155.3" stroke="#333" stroke-width="0.9" />
<line x1="264.5" y1="153.4" x2="264.5" y2="155.3" stroke="#333" stroke-width="0.9" />
<line x1="268.5" y1="153.4" x2="268.5" y2="155.3" stroke="#333" stroke-width="0.9" />
<line x1="272.5" y1="153.4" x2="272.5" y2="155.3" stroke="#333" stroke-width="0.9" />
<line x1="275.5" y1="153.4" x2="275.5" y2="155.3" stroke="#333" stroke-width="0.9" />
<line x1="277.5" y1="153.4" x2="277.5" y2="155.3" stroke="#333" stroke-width="0.9" />
<line x1="279.5" y1="153.4" x2="279.5" y2="155.3" stroke="#333" stroke-width="0.9" />
<line x1="281.5" y1="153.4" x2="281.5" y2="155.3" stroke="#333" stroke-width="0.9" />
<line x1="292.5" y1="153.4" x2="292.5" y2="155.3" stroke="#333" stroke-width="0.9" />
<line x1="297.5" y1="153.4" x2="297.5" y2="155.3" stroke="#333" stroke-width="0.9" />
<line x1="301.5" y1="153.4" x2="301.5" y2="155.3" stroke="#333" stroke-width="0.9" />
<line x1="304.5" y1="153.4" x2="304.5" y2="155.3" stroke="#333" stroke-width="0.9" />
<line x1="307.5" y1="153.4" x2="307.5" y2="155.3" stroke="#333" stroke-width="0.9" />
<line x1="309.5" y1="153.4" x2="309.5" y2="155.3" stroke="#333" stroke-width="0.9" />
<line x1="311.5" y1="153.4" x2="311.5" y2="155.3" stroke="#333" stroke-width="0.9" />
<line x1="312.5" y1="153.4" x2="312.5" y2="155.3" stroke="#333" stroke-width="0.9" />
<line x1="323.5" y1="153.4" x2="323.5" y2="155.3" stroke="#333" stroke-width="0.9" />
<text x="216.3" y="164.8" font-size="5.1" font-weight="normal" text-anchor="middle" fill="#111" stroke="#111" stroke-width="0.1">0</text>
<text x="246.6" y="164.8" font-size="5.1" font-weight="normal" text-anchor="start" fill="#111" stroke="#111" stroke-width="0.1">10</text>
<text x="252.8" y="160.9" font-size="5.3" font-weight="normal" text-anchor="start" fill="#111" stroke="#111" stroke-width="0.1">3</text>
<text x="282.8" y="164.8" font-size="5.1" font-weight="normal" text-anchor="start" fill="#111" stroke="#111" stroke-width="0.1">10</text>
<text x="289" y="160.9" font-size="5.3" font-weight="normal" text-anchor="start" fill="#111" stroke="#111" stroke-width="0.1">4</text>
<text x="313.8" y="164.8" font-size="5.1" font-weight="normal" text-anchor="start" fill="#111" stroke="#111" stroke-width="0.1">10</text>
<text x="320" y="160.9" font-size="5.3" font-weight="normal" text-anchor="start" fill="#111" stroke="#111" stroke-width="0.1">5</text>
<text x="252.9" y="177.6" font-size="6.3" font-weight="normal" text-anchor="middle" fill="#111" >Comp-PE-A :: CD40</text>
<rect x="537.2" y="10.5" width="141.2" height="144.3" fill="#fff" stroke="#a4a4a4" stroke-width="0.95"/>
<line x1="537.7" y1="53.5" x2="677.9" y2="53.5" stroke="#a0a0a0" stroke-width="0.9" stroke-opacity="0.18"/>
<path d="M570.7,53.5L570.7,53.5L571.2,52.71L571.7,51.75L572.2,50.66L572.7,49.44L573.2,48.13L573.7,46.61L574.2,44.87L574.7,42.97L575.2,40.97L575.7,38.92L576.2,36.8L576.7,34.38L577.2,31.81L577.7,29.28L578.2,27L578.7,25.15L579.2,23.64L579.7,22.13L580.2,20.65L580.7,19.27L581.2,18.01L581.7,16.92L582.2,16.05L582.7,15.44L583.2,15.13L583.7,15.15L584.2,15.44L584.7,15.95L585.2,16.67L585.7,17.55L586.2,18.56L586.7,19.68L587.2,20.87L587.7,22.11L588.2,23.36L588.7,24.99L589.2,27.02L589.7,29.26L590.2,31.53L590.7,33.64L591.2,35.49L591.7,37.32L592.2,39.11L592.7,40.79L593.2,42.32L593.7,43.63L594.2,44.77L594.7,45.87L595.2,46.89L595.7,47.84L596.2,48.68L596.7,49.41L597.2,50.01L597.7,50.47L598.2,50.9L598.7,51.31L599.2,51.7L599.7,52.07L600.2,52.41L600.7,52.71L601.2,52.97L601.7,53.18L602.2,53.35L602.7,53.45L603.2,53.5L603.2,53.5 Z" fill="#b2b4b3" fill-opacity="0.45" stroke="none"/>
<path d="M571.2,52.71L571.7,51.75L572.2,50.66L572.7,49.44L573.2,48.13L573.7,46.61L574.2,44.87L574.7,42.97L575.2,40.97L575.7,38.92L576.2,36.8L576.7,34.38L577.2,31.81L577.7,29.28L578.2,27L578.7,25.15L579.2,23.64L579.7,22.13L580.2,20.65L580.7,19.27L581.2,18.01L581.7,16.92L582.2,16.05L582.7,15.44L583.2,15.13L583.7,15.15L584.2,15.44L584.7,15.95L585.2,16.67L585.7,17.55L586.2,18.56L586.7,19.68L587.2,20.87L587.7,22.11L588.2,23.36L588.7,24.99L589.2,27.02L589.7,29.26L590.2,31.53L590.7,33.64L591.2,35.49L591.7,37.32L592.2,39.11L592.7,40.79L593.2,42.32L593.7,43.63L594.2,44.77L594.7,45.87L595.2,46.89L595.7,47.84L596.2,48.68L596.7,49.41L597.2,50.01L597.7,50.47L598.2,50.9L598.7,51.31L599.2,51.7L599.7,52.07L600.2,52.41L600.7,52.71L601.2,52.97L601.7,53.18" fill="none" stroke="#a0a0a0" stroke-width="1.05" stroke-linejoin="round"/>
<line x1="537.7" y1="74.1" x2="677.9" y2="74.1" stroke="#f82020" stroke-width="0.9" stroke-opacity="0.42"/>
<path d="M589.8,74.1L589.8,74.1L590.3,73.98L590.8,73.84L591.3,73.68L591.8,73.52L592.3,73.34L592.8,73.15L593.3,72.94L593.8,72.73L594.3,72.51L594.8,72.28L595.3,72.04L595.8,71.8L596.3,71.55L596.8,71.28L597.3,70.99L597.8,70.69L598.3,70.37L598.8,70.03L599.3,69.68L599.8,69.3L600.3,68.91L600.8,68.49L601.3,68.06L601.8,67.59L602.3,67.09L602.8,66.56L603.3,65.98L603.8,65.37L604.3,64.72L604.8,64.03L605.3,63.29L605.8,62.5L606.3,61.67L606.8,60.78L607.3,59.77L607.8,58.53L608.3,57.11L608.8,55.58L609.3,54.02L609.8,52.5L610.3,51.08L610.8,49.81L611.3,48.58L611.8,47.36L612.3,46.18L612.8,45.05L613.3,43.97L613.8,42.97L614.3,42.07L614.8,41.21L615.3,40.32L615.8,39.42L616.3,38.56L616.8,37.77L617.3,37.11L617.8,36.6L618.3,36.28L618.8,36.2L619.3,36.31L619.8,36.56L620.3,36.93L620.8,37.4L621.3,37.96L621.8,38.59L622.3,39.28L622.8,40L623.3,40.96L623.8,42.29L624.3,43.88L624.8,45.62L625.3,47.38L625.8,49.08L626.3,50.94L626.8,52.92L627.3,54.91L627.8,56.8L628.3,58.5L628.8,59.99L629.3,61.45L629.8,62.85L630.3,64.18L630.8,65.41L631.3,66.51L631.8,67.46L632.3,68.24L632.8,68.94L633.3,69.61L633.8,70.23L634.3,70.81L634.8,71.33L635.3,71.79L635.8,72.19L636.3,72.52L636.8,72.76L637.3,72.95L637.8,73.12L638.3,73.29L638.8,73.45L639.3,73.59L639.8,73.72L640.3,73.83L640.8,73.93L641.3,74.01L641.8,74.06L642.3,74.09L642.3,74.1 Z" fill="#de111a" fill-opacity="0.45" stroke="none"/>
<path d="M590.8,73.84L591.3,73.68L591.8,73.52L592.3,73.34L592.8,73.15L593.3,72.94L593.8,72.73L594.3,72.51L594.8,72.28L595.3,72.04L595.8,71.8L596.3,71.55L596.8,71.28L597.3,70.99L597.8,70.69L598.3,70.37L598.8,70.03L599.3,69.68L599.8,69.3L600.3,68.91L600.8,68.49L601.3,68.06L601.8,67.59L602.3,67.09L602.8,66.56L603.3,65.98L603.8,65.37L604.3,64.72L604.8,64.03L605.3,63.29L605.8,62.5L606.3,61.67L606.8,60.78L607.3,59.77L607.8,58.53L608.3,57.11L608.8,55.58L609.3,54.02L609.8,52.5L610.3,51.08L610.8,49.81L611.3,48.58L611.8,47.36L612.3,46.18L612.8,45.05L613.3,43.97L613.8,42.97L614.3,42.07L614.8,41.21L615.3,40.32L615.8,39.42L616.3,38.56L616.8,37.77L617.3,37.11L617.8,36.6L618.3,36.28L618.8,36.2L619.3,36.31L619.8,36.56L620.3,36.93L620.8,37.4L621.3,37.96L621.8,38.59L622.3,39.28L622.8,40L623.3,40.96L623.8,42.29L624.3,43.88L624.8,45.62L625.3,47.38L625.8,49.08L626.3,50.94L626.8,52.92L627.3,54.91L627.8,56.8L628.3,58.5L628.8,59.99L629.3,61.45L629.8,62.85L630.3,64.18L630.8,65.41L631.3,66.51L631.8,67.46L632.3,68.24L632.8,68.94L633.3,69.61L633.8,70.23L634.3,70.81L634.8,71.33L635.3,71.79L635.8,72.19L636.3,72.52L636.8,72.76L637.3,72.95L637.8,73.12L638.3,73.29L638.8,73.45L639.3,73.59L639.8,73.72L640.3,73.83" fill="none" stroke="#f82020" stroke-width="1.05" stroke-linejoin="round"/>
<line x1="537.7" y1="94.25" x2="677.9" y2="94.25" stroke="#e2f018" stroke-width="0.9" stroke-opacity="0.42"/>
<path d="M571.5,94.25L571.5,94.25L572,94.13L572.5,93.93L573,93.66L573.5,93.3L574,92.82L574.5,92.22L575,91.53L575.5,90.75L576,89.73L576.5,88.37L577,86.78L577.5,85.06L578,83.3L578.5,81.49L579,79.47L579.5,77.35L580,75.21L580.5,73.14L581,71.14L581.5,68.96L582,66.79L582.5,64.86L583,63.4L583.5,62.58L584,61.95L584.5,61.39L585,60.92L585.5,60.56L586,60.33L586.5,60.25L587,60.36L587.5,60.65L588,61.09L588.5,61.66L589,62.3L589.5,63L590,64.06L590.5,65.52L591,67.23L591.5,69.02L592,70.75L592.5,72.49L593,74.35L593.5,76.24L594,78.09L594.5,79.78L595,81.31L595.5,82.78L596,84.18L596.5,85.47L597,86.63L597.5,87.64L598,88.61L598.5,89.53L599,90.4L599.5,91.17L600,91.83L600.5,92.33L601,92.67L601.5,92.97L602,93.25L602.5,93.5L603,93.73L603.5,93.92L604,94.07L604.5,94.18L605,94.24L605,94.25 Z" fill="#e7f427" fill-opacity="0.45" stroke="none"/>
<path d="M572.5,93.93L573,93.66L573.5,93.3L574,92.82L574.5,92.22L575,91.53L575.5,90.75L576,89.73L576.5,88.37L577,86.78L577.5,85.06L578,83.3L578.5,81.49L579,79.47L579.5,77.35L580,75.21L580.5,73.14L581,71.14L581.5,68.96L582,66.79L582.5,64.86L583,63.4L583.5,62.58L584,61.95L584.5,61.39L585,60.92L585.5,60.56L586,60.33L586.5,60.25L587,60.36L587.5,60.65L588,61.09L588.5,61.66L589,62.3L589.5,63L590,64.06L590.5,65.52L591,67.23L591.5,69.02L592,70.75L592.5,72.49L593,74.35L593.5,76.24L594,78.09L594.5,79.78L595,81.31L595.5,82.78L596,84.18L596.5,85.47L597,86.63L597.5,87.64L598,88.61L598.5,89.53L599,90.4L599.5,91.17L600,91.83L600.5,92.33L601,92.67L601.5,92.97L602,93.25L602.5,93.5L603,93.73L603.5,93.92" fill="none" stroke="#e2f018" stroke-width="1.05" stroke-linejoin="round"/>
<line x1="537.7" y1="114.3" x2="677.9" y2="114.3" stroke="#3cf02c" stroke-width="0.9" stroke-opacity="0.42"/>
<path d="M571.8,114.3L571.8,114.3L572.3,114.02L572.8,113.59L573.3,113.07L573.8,112.47L574.3,111.72L574.8,110.78L575.3,109.7L575.8,108.53L576.3,107.3L576.8,105.94L577.3,104.38L577.8,102.71L578.3,100.98L578.8,99.26L579.3,97.61L579.8,95.95L580.3,94.27L580.8,92.59L581.3,90.91L581.8,89.21L582.3,87.4L582.8,85.53L583.3,83.76L583.8,82.2L584.3,80.98L584.8,79.87L585.3,78.79L585.8,77.82L586.3,77.03L586.8,76.49L587.3,76.3L587.8,76.46L588.3,76.9L588.8,77.56L589.3,78.38L589.8,79.32L590.3,80.3L590.8,81.58L591.3,83.31L591.8,85.33L592.3,87.45L592.8,89.51L593.3,91.48L593.8,93.55L594.3,95.64L594.8,97.68L595.3,99.59L595.8,101.34L596.3,103.06L596.8,104.71L597.3,106.23L597.8,107.54L598.3,108.6L598.8,109.59L599.3,110.53L599.8,111.38L600.3,112.13L600.8,112.75L601.3,113.21L601.8,113.5L602.3,113.74L602.8,113.96L603.3,114.13L603.8,114.25L604.3,114.3L604.3,114.3 Z" fill="#3eeb2c" fill-opacity="0.45" stroke="none"/>
<path d="M572.3,114.02L572.8,113.59L573.3,113.07L573.8,112.47L574.3,111.72L574.8,110.78L575.3,109.7L575.8,108.53L576.3,107.3L576.8,105.94L577.3,104.38L577.8,102.71L578.3,100.98L578.8,99.26L579.3,97.61L579.8,95.95L580.3,94.27L580.8,92.59L581.3,90.91L581.8,89.21L582.3,87.4L582.8,85.53L583.3,83.76L583.8,82.2L584.3,80.98L584.8,79.87L585.3,78.79L585.8,77.82L586.3,77.03L586.8,76.49L587.3,76.3L587.8,76.46L588.3,76.9L588.8,77.56L589.3,78.38L589.8,79.32L590.3,80.3L590.8,81.58L591.3,83.31L591.8,85.33L592.3,87.45L592.8,89.51L593.3,91.48L593.8,93.55L594.3,95.64L594.8,97.68L595.3,99.59L595.8,101.34L596.3,103.06L596.8,104.71L597.3,106.23L597.8,107.54L598.3,108.6L598.8,109.59L599.3,110.53L599.8,111.38L600.3,112.13L600.8,112.75L601.3,113.21L601.8,113.5L602.3,113.74L602.8,113.96" fill="none" stroke="#3cf02c" stroke-width="1.05" stroke-linejoin="round"/>
<line x1="537.7" y1="134.5" x2="677.9" y2="134.5" stroke="#2424ec" stroke-width="0.9" stroke-opacity="0.42"/>
<path d="M581.4,134.5L581.4,134.5L581.9,134.44L582.4,134.37L582.9,134.27L583.4,134.15L583.9,134.01L584.4,133.86L584.9,133.7L585.4,133.53L585.9,133.35L586.4,133.16L586.9,132.96L587.4,132.73L587.9,132.48L588.4,132.2L588.9,131.9L589.4,131.57L589.9,131.2L590.4,130.81L590.9,130.39L591.4,129.9L591.9,129.28L592.4,128.55L592.9,127.75L593.4,126.91L593.9,126.05L594.4,125.19L594.9,124.37L595.4,123.53L595.9,122.67L596.4,121.79L596.9,120.9L597.4,120.01L597.9,119.13L598.4,118.27L598.9,117.44L599.4,116.62L599.9,115.83L600.4,115.04L600.9,114.25L601.4,113.46L601.9,112.65L602.4,111.82L602.9,110.96L603.4,110.04L603.9,109.05L604.4,108L604.9,106.94L605.4,105.88L605.9,104.86L606.4,103.93L606.9,103.1L607.4,102.34L607.9,101.58L608.4,100.84L608.9,100.15L609.4,99.54L609.9,99.01L610.4,98.59L610.9,98.29L611.4,98.04L611.9,97.81L612.4,97.61L612.9,97.43L613.4,97.29L613.9,97.18L614.4,97.1L614.9,97.04L615.4,96.99L615.9,96.95L616.4,96.92L616.9,96.9L617.4,96.95L617.9,97.43L618.4,98.31L618.9,99.46L619.4,100.73L619.9,101.97L620.4,103.17L620.9,104.5L621.4,105.95L621.9,107.47L622.4,109.03L622.9,110.6L623.4,112.22L623.9,113.94L624.4,115.7L624.9,117.43L625.4,119.08L625.9,120.6L626.4,122.07L626.9,123.51L627.4,124.88L627.9,126.15L628.4,127.29L628.9,128.32L629.4,129.32L629.9,130.26L630.4,131.09L630.9,131.78L631.4,132.29L631.9,132.73L632.4,133.15L632.9,133.54L633.4,133.88L633.9,134.16L634.4,134.37L634.9,134.48L634.9,134.5 Z" fill="#0d0deb" fill-opacity="0.45" stroke="none"/>
<path d="M583.4,134.15L583.9,134.01L584.4,133.86L584.9,133.7L585.4,133.53L585.9,133.35L586.4,133.16L586.9,132.96L587.4,132.73L587.9,132.48L588.4,132.2L588.9,131.9L589.4,131.57L589.9,131.2L590.4,130.81L590.9,130.39L591.4,129.9L591.9,129.28L592.4,128.55L592.9,127.75L593.4,126.91L593.9,126.05L594.4,125.19L594.9,124.37L595.4,123.53L595.9,122.67L596.4,121.79L596.9,120.9L597.4,120.01L597.9,119.13L598.4,118.27L598.9,117.44L599.4,116.62L599.9,115.83L600.4,115.04L600.9,114.25L601.4,113.46L601.9,112.65L602.4,111.82L602.9,110.96L603.4,110.04L603.9,109.05L604.4,108L604.9,106.94L605.4,105.88L605.9,104.86L606.4,103.93L606.9,103.1L607.4,102.34L607.9,101.58L608.4,100.84L608.9,100.15L609.4,99.54L609.9,99.01L610.4,98.59L610.9,98.29L611.4,98.04L611.9,97.81L612.4,97.61L612.9,97.43L613.4,97.29L613.9,97.18L614.4,97.1L614.9,97.04L615.4,96.99L615.9,96.95L616.4,96.92L616.9,96.9L617.4,96.95L617.9,97.43L618.4,98.31L618.9,99.46L619.4,100.73L619.9,101.97L620.4,103.17L620.9,104.5L621.4,105.95L621.9,107.47L622.4,109.03L622.9,110.6L623.4,112.22L623.9,113.94L624.4,115.7L624.9,117.43L625.4,119.08L625.9,120.6L626.4,122.07L626.9,123.51L627.4,124.88L627.9,126.15L628.4,127.29L628.9,128.32L629.4,129.32L629.9,130.26L630.4,131.09L630.9,131.78L631.4,132.29L631.9,132.73L632.4,133.15L632.9,133.54L633.4,133.88L633.9,134.16" fill="none" stroke="#2424ec" stroke-width="1.05" stroke-linejoin="round"/>
<line x1="537.7" y1="154.8" x2="677.9" y2="154.8" stroke="#f020f0" stroke-width="0.9" stroke-opacity="0.42"/>
<path d="M580.4,154.8L580.4,154.8L580.9,154.53L581.4,154.2L581.9,153.83L582.4,153.42L582.9,152.98L583.4,152.5L583.9,151.97L584.4,151.38L584.9,150.72L585.4,150.02L585.9,149.27L586.4,148.49L586.9,147.69L587.4,146.87L587.9,145.99L588.4,145.07L588.9,144.09L589.4,143.08L589.9,142.04L590.4,140.98L590.9,139.91L591.4,138.83L591.9,137.72L592.4,136.57L592.9,135.39L593.4,134.19L593.9,132.95L594.4,131.63L594.9,130.24L595.4,128.83L595.9,127.46L596.4,126.18L596.9,124.99L597.4,123.77L597.9,122.58L598.4,121.5L598.9,120.61L599.4,120L599.9,119.57L600.4,119.17L600.9,118.8L601.4,118.48L601.9,118.21L602.4,118L602.9,117.86L603.4,117.8L603.9,117.85L604.4,118.05L604.9,118.38L605.4,118.82L605.9,119.36L606.4,119.96L606.9,120.63L607.4,121.33L607.9,122.05L608.4,123.01L608.9,124.25L609.4,125.65L609.9,127.13L610.4,128.58L610.9,129.93L611.4,131.26L611.9,132.6L612.4,133.94L612.9,135.29L613.4,136.63L613.9,138L614.4,139.41L614.9,140.83L615.4,142.2L615.9,143.48L616.4,144.62L616.9,145.69L617.4,146.73L617.9,147.72L618.4,148.65L618.9,149.5L619.4,150.25L619.9,150.89L620.4,151.43L620.9,151.94L621.4,152.41L621.9,152.84L622.4,153.22L622.9,153.55L623.4,153.82L623.9,154.04L624.4,154.23L624.9,154.41L625.4,154.56L625.9,154.69L626.4,154.77L626.4,154.8 Z" fill="#ef0def" fill-opacity="0.45" stroke="none"/>
<path d="M580.9,154.53L581.4,154.2L581.9,153.83L582.4,153.42L582.9,152.98L583.4,152.5L583.9,151.97L584.4,151.38L584.9,150.72L585.4,150.02L585.9,149.27L586.4,148.49L586.9,147.69L587.4,146.87L587.9,145.99L588.4,145.07L588.9,144.09L589.4,143.08L589.9,142.04L590.4,140.98L590.9,139.91L591.4,138.83L591.9,137.72L592.4,136.57L592.9,135.39L593.4,134.19L593.9,132.95L594.4,131.63L594.9,130.24L595.4,128.83L595.9,127.46L596.4,126.18L596.9,124.99L597.4,123.77L597.9,122.58L598.4,121.5L598.9,120.61L599.4,120L599.9,119.57L600.4,119.17L600.9,118.8L601.4,118.48L601.9,118.21L602.4,118L602.9,117.86L603.4,117.8L603.9,117.85L604.4,118.05L604.9,118.38L605.4,118.82L605.9,119.36L606.4,119.96L606.9,120.63L607.4,121.33L607.9,122.05L608.4,123.01L608.9,124.25L609.4,125.65L609.9,127.13L610.4,128.58L610.9,129.93L611.4,131.26L611.9,132.6L612.4,133.94L612.9,135.29L613.4,136.63L613.9,138L614.4,139.41L614.9,140.83L615.4,142.2L615.9,143.48L616.4,144.62L616.9,145.69L617.4,146.73L617.9,147.72L618.4,148.65L618.9,149.5L619.4,150.25L619.9,150.89L620.4,151.43L620.9,151.94L621.4,152.41L621.9,152.84L622.4,153.22L622.9,153.55L623.4,153.82L623.9,154.04L624.4,154.23L624.9,154.41" fill="none" stroke="#f020f0" stroke-width="1.05" stroke-linejoin="round"/>
<rect x="565.9" y="154.8" width="6.8" height="1.9" fill="#000"/>
<line x1="566.4" y1="154.8" x2="566.4" y2="158.4" stroke="#000" stroke-width="0.9" />
<line x1="568" y1="154.8" x2="568" y2="158.4" stroke="#000" stroke-width="0.9" />
<line x1="569.3" y1="154.8" x2="569.3" y2="158.4" stroke="#000" stroke-width="0.9" />
<line x1="570.8" y1="154.8" x2="570.8" y2="158.4" stroke="#000" stroke-width="0.9" />
<line x1="572.2" y1="154.8" x2="572.2" y2="158.4" stroke="#000" stroke-width="0.9" />
<line x1="545.5" y1="154.8" x2="545.5" y2="158" stroke="#000" stroke-width="1" />
<line x1="592.5" y1="154.8" x2="592.5" y2="158" stroke="#000" stroke-width="1" />
<line x1="630.5" y1="154.8" x2="630.5" y2="158" stroke="#000" stroke-width="1" />
<line x1="664.5" y1="154.8" x2="664.5" y2="158" stroke="#000" stroke-width="1" />
<line x1="547.5" y1="154.8" x2="547.5" y2="156.7" stroke="#333" stroke-width="0.9" />
<line x1="550.5" y1="154.8" x2="550.5" y2="156.7" stroke="#333" stroke-width="0.9" />
<line x1="553.5" y1="154.8" x2="553.5" y2="156.7" stroke="#333" stroke-width="0.9" />
<line x1="555.5" y1="154.8" x2="555.5" y2="156.7" stroke="#333" stroke-width="0.9" />
<line x1="557.5" y1="154.8" x2="557.5" y2="156.7" stroke="#333" stroke-width="0.9" />
<line x1="559.5" y1="154.8" x2="559.5" y2="156.7" stroke="#333" stroke-width="0.9" />
<line x1="562.5" y1="154.8" x2="562.5" y2="156.7" stroke="#333" stroke-width="0.9" />
<line x1="564.5" y1="154.8" x2="564.5" y2="156.7" stroke="#333" stroke-width="0.9" />
<line x1="575.5" y1="154.8" x2="575.5" y2="156.7" stroke="#333" stroke-width="0.9" />
<line x1="578.5" y1="154.8" x2="578.5" y2="156.7" stroke="#333" stroke-width="0.9" />
<line x1="581.5" y1="154.8" x2="581.5" y2="156.7" stroke="#333" stroke-width="0.9" />
<line x1="584.5" y1="154.8" x2="584.5" y2="156.7" stroke="#333" stroke-width="0.9" />
<line x1="587.5" y1="154.8" x2="587.5" y2="156.7" stroke="#333" stroke-width="0.9" />
<line x1="589.5" y1="154.8" x2="589.5" y2="156.7" stroke="#333" stroke-width="0.9" />
<line x1="603.5" y1="154.8" x2="603.5" y2="156.7" stroke="#333" stroke-width="0.9" />
<line x1="610.5" y1="154.8" x2="610.5" y2="156.7" stroke="#333" stroke-width="0.9" />
<line x1="615.5" y1="154.8" x2="615.5" y2="156.7" stroke="#333" stroke-width="0.9" />
<line x1="618.5" y1="154.8" x2="618.5" y2="156.7" stroke="#333" stroke-width="0.9" />
<line x1="621.5" y1="154.8" x2="621.5" y2="156.7" stroke="#333" stroke-width="0.9" />
<line x1="624.5" y1="154.8" x2="624.5" y2="156.7" stroke="#333" stroke-width="0.9" />
<line x1="626.5" y1="154.8" x2="626.5" y2="156.7" stroke="#333" stroke-width="0.9" />
<line x1="628.5" y1="154.8" x2="628.5" y2="156.7" stroke="#333" stroke-width="0.9" />
<line x1="640.5" y1="154.8" x2="640.5" y2="156.7" stroke="#333" stroke-width="0.9" />
<line x1="646.5" y1="154.8" x2="646.5" y2="156.7" stroke="#333" stroke-width="0.9" />
<line x1="650.5" y1="154.8" x2="650.5" y2="156.7" stroke="#333" stroke-width="0.9" />
<line x1="654.5" y1="154.8" x2="654.5" y2="156.7" stroke="#333" stroke-width="0.9" />
<line x1="656.5" y1="154.8" x2="656.5" y2="156.7" stroke="#333" stroke-width="0.9" />
<line x1="659.5" y1="154.8" x2="659.5" y2="156.7" stroke="#333" stroke-width="0.9" />
<line x1="661.5" y1="154.8" x2="661.5" y2="156.7" stroke="#333" stroke-width="0.9" />
<line x1="662.5" y1="154.8" x2="662.5" y2="156.7" stroke="#333" stroke-width="0.9" />
<line x1="673.5" y1="154.8" x2="673.5" y2="156.7" stroke="#333" stroke-width="0.9" />
<text x="543.7" y="166.1" font-size="5.1" font-weight="normal" text-anchor="start" fill="#111" stroke="#111" stroke-width="0.1">-10</text>
<text x="553.3" y="162.2" font-size="5.3" font-weight="normal" text-anchor="start" fill="#111" stroke="#111" stroke-width="0.1">3</text>
<text x="571.5" y="166.1" font-size="5.1" font-weight="normal" text-anchor="middle" fill="#111" stroke="#111" stroke-width="0.1">0</text>
<text x="591.8" y="166.1" font-size="5.1" font-weight="normal" text-anchor="start" fill="#111" stroke="#111" stroke-width="0.1">10</text>
<text x="598" y="162.2" font-size="5.3" font-weight="normal" text-anchor="start" fill="#111" stroke="#111" stroke-width="0.1">3</text>
<text x="630.2" y="166.1" font-size="5.1" font-weight="normal" text-anchor="start" fill="#111" stroke="#111" stroke-width="0.1">10</text>
<text x="636.4" y="162.2" font-size="5.3" font-weight="normal" text-anchor="start" fill="#111" stroke="#111" stroke-width="0.1">4</text>
<text x="664" y="166.1" font-size="5.1" font-weight="normal" text-anchor="start" fill="#111" stroke="#111" stroke-width="0.1">10</text>
<text x="670.2" y="162.2" font-size="5.3" font-weight="normal" text-anchor="start" fill="#111" stroke="#111" stroke-width="0.1">5</text>
<text x="603.8" y="179.3" font-size="6.3" font-weight="normal" text-anchor="middle" fill="#111" >Comp-APC-A :: MHC-II</text>
<rect x="186.5" y="202.5" width="142" height="142.7" fill="#fff" stroke="#a4a4a4" stroke-width="0.95"/>
<line x1="187" y1="236" x2="328" y2="236" stroke="#1e1e1e" stroke-width="0.9" stroke-opacity="0.42"/>
<path d="M215.3,236L215.3,236L215.8,235.78L216.3,235.25L216.8,234.5L217.3,233.24L217.8,231.67L218.3,229.68L218.8,227.17L219.3,223.72L219.8,219.75L220.3,215.99L220.8,212.68L221.3,209.76L221.8,208.53L222.3,207.91L222.8,207.96L223.3,208.49L223.8,209.29L224.3,210.82L224.8,212.88L225.3,215.19L225.8,217.84L226.3,220.2L226.8,222.36L227.3,224.2L227.8,225.72L228.3,227.08L228.8,228.24L229.3,229.17L229.8,229.93L230.3,230.59L230.8,231.17L231.3,231.7L231.8,232.2L232.3,232.69L232.8,233.17L233.3,233.61L233.8,233.98L234.3,234.27L234.8,234.47L235.3,234.63L235.8,234.77L236.3,234.89L236.8,235L237.3,235.09L237.8,235.17L238.3,235.24L238.8,235.3L239.3,235.35L239.8,235.39L240.3,235.43L240.8,235.47L241.3,235.51L241.8,235.54L242.3,235.57L242.8,235.59L243.3,235.62L243.8,235.64L244.3,235.67L244.8,235.69L245.3,235.71L245.8,235.74L246.3,235.76L246.8,235.78L247.3,235.81L247.8,235.83L248.3,235.85L248.8,235.87L249.3,235.89L249.8,235.91L250.3,235.92L250.8,235.94L251.3,235.96L251.8,235.97L252.3,235.98L252.8,236L252.8,236 Z" fill="#606060" fill-opacity="0.6" stroke="none"/>
<path d="M216.3,235.25L216.8,234.5L217.3,233.24L217.8,231.67L218.3,229.68L218.8,227.17L219.3,223.72L219.8,219.75L220.3,215.99L220.8,212.68L221.3,209.76L221.8,208.53L222.3,207.91L222.8,207.96L223.3,208.49L223.8,209.29L224.3,210.82L224.8,212.88L225.3,215.19L225.8,217.84L226.3,220.2L226.8,222.36L227.3,224.2L227.8,225.72L228.3,227.08L228.8,228.24L229.3,229.17L229.8,229.93L230.3,230.59L230.8,231.17L231.3,231.7L231.8,232.2L232.3,232.69L232.8,233.17L233.3,233.61L233.8,233.98L234.3,234.27L234.8,234.47L235.3,234.63L235.8,234.77L236.3,234.89L236.8,235L237.3,235.09L237.8,235.17L238.3,235.24L238.8,235.3L239.3,235.35L239.8,235.39L240.3,235.43L240.8,235.47L241.3,235.51L241.8,235.54L242.3,235.57L242.8,235.59L243.3,235.62L243.8,235.64L244.3,235.67L244.8,235.69L245.3,235.71L245.8,235.74" fill="none" stroke="#1e1e1e" stroke-width="1.05" stroke-linejoin="round"/>
<line x1="187" y1="251.1" x2="328" y2="251.1" stroke="#a0a0a0" stroke-width="0.9" stroke-opacity="0.18"/>
<path d="M244.2,251.1L244.2,251.1L244.7,251.09L245.2,251.06L245.7,251.01L246.2,250.95L246.7,250.87L247.2,250.78L247.7,250.68L248.2,250.58L248.7,250.42L249.2,250.2L249.7,249.91L250.2,249.57L250.7,249.19L251.2,248.76L251.7,248.3L252.2,247.74L252.7,246.99L253.2,246.1L253.7,245.1L254.2,244.05L254.7,243L255.2,241.91L255.7,240.73L256.2,239.49L256.7,238.2L257.2,236.9L257.7,235.6L258.2,234.26L258.7,232.85L259.2,231.47L259.7,230.17L260.2,229L260.7,227.82L261.2,226.71L261.7,225.81L262.2,225.2L262.7,224.73L263.2,224.31L263.7,223.96L264.2,223.71L264.7,223.6L265.2,223.66L265.7,223.87L266.2,224.22L266.7,224.67L267.2,225.19L267.7,225.93L268.2,227.15L268.7,228.66L269.2,230.27L269.7,231.82L270.2,233.49L270.7,235.26L271.2,237L271.7,238.6L272.2,240.09L272.7,241.55L273.2,242.9L273.7,244.08L274.2,245.09L274.7,246.03L275.2,246.9L275.7,247.69L276.2,248.37L276.7,248.92L277.2,249.35L277.7,249.74L278.2,250.1L278.7,250.4L279.2,250.63L279.7,250.78L280.2,250.87L280.7,250.94L281.2,251L281.7,251.05L282.2,251.09L282.7,251.1L282.7,251.1 Z" fill="#c8c8c8" fill-opacity="0.45" stroke="none"/>
<path d="M247.2,250.78L247.7,250.68L248.2,250.58L248.7,250.42L249.2,250.2L249.7,249.91L250.2,249.57L250.7,249.19L251.2,248.76L251.7,248.3L252.2,247.74L252.7,246.99L253.2,246.1L253.7,245.1L254.2,244.05L254.7,243L255.2,241.91L255.7,240.73L256.2,239.49L256.7,238.2L257.2,236.9L257.7,235.6L258.2,234.26L258.7,232.85L259.2,231.47L259.7,230.17L260.2,229L260.7,227.82L261.2,226.71L261.7,225.81L262.2,225.2L262.7,224.73L263.2,224.31L263.7,223.96L264.2,223.71L264.7,223.6L265.2,223.66L265.7,223.87L266.2,224.22L266.7,224.67L267.2,225.19L267.7,225.93L268.2,227.15L268.7,228.66L269.2,230.27L269.7,231.82L270.2,233.49L270.7,235.26L271.2,237L271.7,238.6L272.2,240.09L272.7,241.55L273.2,242.9L273.7,244.08L274.2,245.09L274.7,246.03L275.2,246.9L275.7,247.69L276.2,248.37L276.7,248.92L277.2,249.35L277.7,249.74L278.2,250.1L278.7,250.4L279.2,250.63L279.7,250.78" fill="none" stroke="#a0a0a0" stroke-width="1.05" stroke-linejoin="round"/>
<line x1="187" y1="266.9" x2="328" y2="266.9" stroke="#f82020" stroke-width="0.9" stroke-opacity="0.42"/>
<path d="M250,266.9L250,266.9L250.5,266.8L251,266.65L251.5,266.46L252,266.24L252.5,265.98L253,265.7L253.5,265.41L254,265.1L254.5,264.76L255,264.37L255.5,263.93L256,263.42L256.5,262.84L257,262.2L257.5,261.4L258,260.4L258.5,259.24L259,257.97L259.5,256.66L260,255.33L260.5,253.88L261,252.31L261.5,250.72L262,249.19L262.5,247.73L263,246.23L263.5,244.81L264,243.59L264.5,242.65L265,241.75L265.5,240.98L266,240.49L266.5,240.44L267,240.83L267.5,241.37L268,241.76L268.5,241.71L269,241.31L269.5,240.79L270,240.44L270.5,240.62L271,241.73L271.5,243.23L272,244.67L272.5,246.32L273,248.14L273.5,250.02L274,252.04L274.5,254.27L275,256.4L275.5,258.1L276,259.51L276.5,260.78L277,261.87L277.5,262.75L278,263.45L278.5,264.1L279,264.67L279.5,265.16L280,265.56L280.5,265.85L281,266.07L281.5,266.27L282,266.45L282.5,266.6L283,266.73L283.5,266.83L284,266.89L284,266.9 Z" fill="#de111a" fill-opacity="0.45" stroke="none"/>
<path d="M251,266.65L251.5,266.46L252,266.24L252.5,265.98L253,265.7L253.5,265.41L254,265.1L254.5,264.76L255,264.37L255.5,263.93L256,263.42L256.5,262.84L257,262.2L257.5,261.4L258,260.4L258.5,259.24L259,257.97L259.5,256.66L260,255.33L260.5,253.88L261,252.31L261.5,250.72L262,249.19L262.5,247.73L263,246.23L263.5,244.81L264,243.59L264.5,242.65L265,241.75L265.5,240.98L266,240.49L266.5,240.44L267,240.83L267.5,241.37L268,241.76L268.5,241.71L269,241.31L269.5,240.79L270,240.44L270.5,240.62L271,241.73L271.5,243.23L272,244.67L272.5,246.32L273,248.14L273.5,250.02L274,252.04L274.5,254.27L275,256.4L275.5,258.1L276,259.51L276.5,260.78L277,261.87L277.5,262.75L278,263.45L278.5,264.1L279,264.67L279.5,265.16L280,265.56L280.5,265.85L281,266.07L281.5,266.27L282,266.45L282.5,266.6" fill="none" stroke="#f82020" stroke-width="1.05" stroke-linejoin="round"/>
<line x1="187" y1="282.45" x2="328" y2="282.45" stroke="#f08028" stroke-width="0.9" stroke-opacity="0.42"/>
<path d="M249.5,282.45L249.5,282.45L250,282.42L250.5,282.37L251,282.29L251.5,282.21L252,282.11L252.5,281.99L253,281.83L253.5,281.65L254,281.44L254.5,281.2L255,280.94L255.5,280.65L256,280.31L256.5,279.88L257,279.37L257.5,278.8L258,278.17L258.5,277.48L259,276.75L259.5,275.96L260,275.01L260.5,273.93L261,272.75L261.5,271.5L262,270.21L262.5,268.85L263,267.34L263.5,265.76L264,264.17L264.5,262.62L265,260.91L265.5,259.19L266,257.69L266.5,256.65L267,255.94L267.5,255.3L268,254.8L268.5,254.5L269,254.49L269.5,254.87L270,255.58L270.5,256.48L271,257.45L271.5,258.69L272,260.35L272.5,262.21L273,264.06L273.5,265.77L274,267.5L274.5,269.24L275,270.9L275.5,272.45L276,273.99L276.5,275.49L277,276.83L277.5,277.89L278,278.65L278.5,279.34L279,279.94L279.5,280.45L280,280.88L280.5,281.2L281,281.45L281.5,281.68L282,281.9L282.5,282.09L283,282.24L283.5,282.36L284,282.43L284,282.45 Z" fill="#de7711" fill-opacity="0.45" stroke="none"/>
<path d="M252,282.11L252.5,281.99L253,281.83L253.5,281.65L254,281.44L254.5,281.2L255,280.94L255.5,280.65L256,280.31L256.5,279.88L257,279.37L257.5,278.8L258,278.17L258.5,277.48L259,276.75L259.5,275.96L260,275.01L260.5,273.93L261,272.75L261.5,271.5L262,270.21L262.5,268.85L263,267.34L263.5,265.76L264,264.17L264.5,262.62L265,260.91L265.5,259.19L266,257.69L266.5,256.65L267,255.94L267.5,255.3L268,254.8L268.5,254.5L269,254.49L269.5,254.87L270,255.58L270.5,256.48L271,257.45L271.5,258.69L272,260.35L272.5,262.21L273,264.06L273.5,265.77L274,267.5L274.5,269.24L275,270.9L275.5,272.45L276,273.99L276.5,275.49L277,276.83L277.5,277.89L278,278.65L278.5,279.34L279,279.94L279.5,280.45L280,280.88L280.5,281.2L281,281.45L281.5,281.68L282,281.9L282.5,282.09" fill="none" stroke="#f08028" stroke-width="1.05" stroke-linejoin="round"/>
<line x1="187" y1="298.4" x2="328" y2="298.4" stroke="#e2f018" stroke-width="0.9" stroke-opacity="0.42"/>
<path d="M242,298.4L242,298.4L242.5,298.31L243,298.21L243.5,298.11L244,298L244.5,297.88L245,297.75L245.5,297.63L246,297.5L246.5,297.36L247,297.21L247.5,297.04L248,296.85L248.5,296.64L249,296.4L249.5,296.1L250,295.74L250.5,295.31L251,294.83L251.5,294.3L252,293.72L252.5,293.09L253,292.42L253.5,291.7L254,290.79L254.5,289.71L255,288.51L255.5,287.23L256,285.92L256.5,284.59L257,283.13L257.5,281.59L258,280.03L258.5,278.49L259,276.85L259.5,275.15L260,273.57L260.5,272.3L261,271.32L261.5,270.37L262,269.58L262.5,269.05L263,268.91L263.5,269.26L264,269.98L264.5,270.92L265,271.91L265.5,272.96L266,274.26L266.5,275.71L267,277.17L267.5,278.54L268,279.88L268.5,281.22L269,282.56L269.5,283.9L270,285.29L270.5,286.72L271,288.1L271.5,289.35L272,290.44L272.5,291.47L273,292.45L273.5,293.35L274,294.14L274.5,294.79L275,295.3L275.5,295.76L276,296.18L276.5,296.56L277,296.9L277.5,297.17L278,297.4L278.5,297.56L279,297.71L279.5,297.85L280,297.98L280.5,298.1L281,298.2L281.5,298.28L282,298.35L282.5,298.39L283,298.4L283,298.4 Z" fill="#e7f427" fill-opacity="0.45" stroke="none"/>
<path d="M243.5,298.11L244,298L244.5,297.88L245,297.75L245.5,297.63L246,297.5L246.5,297.36L247,297.21L247.5,297.04L248,296.85L248.5,296.64L249,296.4L249.5,296.1L250,295.74L250.5,295.31L251,294.83L251.5,294.3L252,293.72L252.5,293.09L253,292.42L253.5,291.7L254,290.79L254.5,289.71L255,288.51L255.5,287.23L256,285.92L256.5,284.59L257,283.13L257.5,281.59L258,280.03L258.5,278.49L259,276.85L259.5,275.15L260,273.57L260.5,272.3L261,271.32L261.5,270.37L262,269.58L262.5,269.05L263,268.91L263.5,269.26L264,269.98L264.5,270.92L265,271.91L265.5,272.96L266,274.26L266.5,275.71L267,277.17L267.5,278.54L268,279.88L268.5,281.22L269,282.56L269.5,283.9L270,285.29L270.5,286.72L271,288.1L271.5,289.35L272,290.44L272.5,291.47L273,292.45L273.5,293.35L274,294.14L274.5,294.79L275,295.3L275.5,295.76L276,296.18L276.5,296.56L277,296.9L277.5,297.17L278,297.4L278.5,297.56L279,297.71L279.5,297.85L280,297.98L280.5,298.1" fill="none" stroke="#e2f018" stroke-width="1.05" stroke-linejoin="round"/>
<line x1="187" y1="313.7" x2="328" y2="313.7" stroke="#3cf02c" stroke-width="0.9" stroke-opacity="0.42"/>
<path d="M244,313.7L244,313.7L244.5,313.68L245,313.62L245.5,313.52L246,313.39L246.5,313.25L247,313.08L247.5,312.91L248,312.72L248.5,312.49L249,312.21L249.5,311.88L250,311.5L250.5,311.07L251,310.6L251.5,310.09L252,309.55L252.5,308.95L253,308.18L253.5,307.24L254,306.19L254.5,305.07L255,303.93L255.5,302.75L256,301.47L256.5,300.11L257,298.7L257.5,297.26L258,295.81L258.5,294.23L259,292.58L259.5,290.96L260,289.47L260.5,288.2L261,287L261.5,285.86L262,285.17L262.5,285.25L263,285.75L263.5,285.84L264,285.4L264.5,285.1L265,285.3L265.5,285.83L266,286.6L266.5,287.48L267,288.39L267.5,289.52L268,290.94L268.5,292.53L269,294.18L269.5,295.79L270,297.32L270.5,298.91L271,300.52L271.5,302.1L272,303.56L272.5,304.84L273,306.06L273.5,307.24L274,308.33L274.5,309.26L275,309.98L275.5,310.52L276,311.01L276.5,311.45L277,311.83L277.5,312.16L278,312.45L278.5,312.68L279,312.87L279.5,313.05L280,313.21L280.5,313.37L281,313.5L281.5,313.6L282,313.67L282.5,313.7L282.5,313.7 Z" fill="#3eeb2c" fill-opacity="0.45" stroke="none"/>
<path d="M246,313.39L246.5,313.25L247,313.08L247.5,312.91L248,312.72L248.5,312.49L249,312.21L249.5,311.88L250,311.5L250.5,311.07L251,310.6L251.5,310.09L252,309.55L252.5,308.95L253,308.18L253.5,307.24L254,306.19L254.5,305.07L255,303.93L255.5,302.75L256,301.47L256.5,300.11L257,298.7L257.5,297.26L258,295.81L258.5,294.23L259,292.58L259.5,290.96L260,289.47L260.5,288.2L261,287L261.5,285.86L262,285.17L262.5,285.25L263,285.75L263.5,285.84L264,285.4L264.5,285.1L265,285.3L265.5,285.83L266,286.6L266.5,287.48L267,288.39L267.5,289.52L268,290.94L268.5,292.53L269,294.18L269.5,295.79L270,297.32L270.5,298.91L271,300.52L271.5,302.1L272,303.56L272.5,304.84L273,306.06L273.5,307.24L274,308.33L274.5,309.26L275,309.98L275.5,310.52L276,311.01L276.5,311.45L277,311.83L277.5,312.16L278,312.45L278.5,312.68L279,312.87L279.5,313.05L280,313.21L280.5,313.37" fill="none" stroke="#3cf02c" stroke-width="1.05" stroke-linejoin="round"/>
<line x1="187" y1="328.9" x2="328" y2="328.9" stroke="#3a8cf0" stroke-width="0.9" stroke-opacity="0.42"/>
<path d="M238.5,328.9L238.5,328.9L239,328.86L239.5,328.81L240,328.74L240.5,328.66L241,328.57L241.5,328.48L242,328.38L242.5,328.25L243,328.12L243.5,327.96L244,327.8L244.5,327.61L245,327.41L245.5,327.19L246,326.95L246.5,326.66L247,326.31L247.5,325.91L248,325.46L248.5,324.98L249,324.48L249.5,323.95L250,323.43L250.5,322.9L251,322.34L251.5,321.73L252,321.09L252.5,320.43L253,319.77L253.5,319.13L254,318.53L254.5,317.98L255,317.49L255.5,317.01L256,316.54L256.5,316.04L257,315.48L257.5,314.89L258,314.27L258.5,313.6L259,312.87L259.5,312.07L260,311.1L260.5,309.87L261,308.52L261.5,307.22L262,306.12L262.5,305.38L263,304.79L263.5,304.24L264,303.78L264.5,303.45L265,303.3L265.5,303.42L266,303.73L266.5,303.9L267,303.7L267.5,303.38L268,303.32L268.5,303.55L269,304L269.5,304.63L270,305.38L270.5,306.23L271,307.45L271.5,309.4L272,311.48L272.5,313.06L273,314.26L273.5,315.33L274,316.3L274.5,317.22L275,318.12L275.5,319.02L276,319.89L276.5,320.72L277,321.53L277.5,322.3L278,323.05L278.5,323.81L279,324.56L279.5,325.28L280,325.91L280.5,326.42L281,326.81L281.5,327.17L282,327.51L282.5,327.8L283,328.06L283.5,328.27L284,328.45L284.5,328.58L285,328.69L285.5,328.79L286,328.87L286.5,328.9L286.5,328.9 Z" fill="#2792f4" fill-opacity="0.45" stroke="none"/>
<path d="M241,328.57L241.5,328.48L242,328.38L242.5,328.25L243,328.12L243.5,327.96L244,327.8L244.5,327.61L245,327.41L245.5,327.19L246,326.95L246.5,326.66L247,326.31L247.5,325.91L248,325.46L248.5,324.98L249,324.48L249.5,323.95L250,323.43L250.5,322.9L251,322.34L251.5,321.73L252,321.09L252.5,320.43L253,319.77L253.5,319.13L254,318.53L254.5,317.98L255,317.49L255.5,317.01L256,316.54L256.5,316.04L257,315.48L257.5,314.89L258,314.27L258.5,313.6L259,312.87L259.5,312.07L260,311.1L260.5,309.87L261,308.52L261.5,307.22L262,306.12L262.5,305.38L263,304.79L263.5,304.24L264,303.78L264.5,303.45L265,303.3L265.5,303.42L266,303.73L266.5,303.9L267,303.7L267.5,303.38L268,303.32L268.5,303.55L269,304L269.5,304.63L270,305.38L270.5,306.23L271,307.45L271.5,309.4L272,311.48L272.5,313.06L273,314.26L273.5,315.33L274,316.3L274.5,317.22L275,318.12L275.5,319.02L276,319.89L276.5,320.72L277,321.53L277.5,322.3L278,323.05L278.5,323.81L279,324.56L279.5,325.28L280,325.91L280.5,326.42L281,326.81L281.5,327.17L282,327.51L282.5,327.8L283,328.06L283.5,328.27L284,328.45L284.5,328.58" fill="none" stroke="#3a8cf0" stroke-width="1.05" stroke-linejoin="round"/>
<line x1="187" y1="345.2" x2="328" y2="345.2" stroke="#f020f0" stroke-width="0.9" stroke-opacity="0.42"/>
<path d="M244.8,345.2L244.8,345.2L245.3,345.16L245.8,345.05L246.3,344.89L246.8,344.68L247.3,344.45L247.8,344.2L248.3,343.89L248.8,343.47L249.3,342.96L249.8,342.38L250.3,341.74L250.8,341.05L251.3,340.34L251.8,339.58L252.3,338.71L252.8,337.74L253.3,336.7L253.8,335.6L254.3,334.47L254.8,333.23L255.3,331.89L255.8,330.49L256.3,329.07L256.8,327.67L257.3,326.22L257.8,324.59L258.3,322.95L258.8,321.51L259.3,320.46L259.8,319.94L260.3,319.58L260.8,319.28L261.3,319.04L261.8,318.87L262.3,318.8L262.8,318.91L263.3,319.3L263.8,319.92L264.3,320.67L264.8,321.5L265.3,322.36L265.8,323.48L266.3,324.83L266.8,326.31L267.3,327.8L267.8,329.2L268.3,330.55L268.8,331.94L269.3,333.32L269.8,334.63L270.3,335.84L270.8,336.91L271.3,337.9L271.8,338.83L272.3,339.69L272.8,340.48L273.3,341.2L273.8,341.88L274.3,342.55L274.8,343.16L275.3,343.68L275.8,344.08L276.3,344.35L276.8,344.6L277.3,344.82L277.8,345L278.3,345.13L278.8,345.19L278.8,345.2 Z" fill="#ef0def" fill-opacity="0.45" stroke="none"/>
<path d="M246.3,344.89L246.8,344.68L247.3,344.45L247.8,344.2L248.3,343.89L248.8,343.47L249.3,342.96L249.8,342.38L250.3,341.74L250.8,341.05L251.3,340.34L251.8,339.58L252.3,338.71L252.8,337.74L253.3,336.7L253.8,335.6L254.3,334.47L254.8,333.23L255.3,331.89L255.8,330.49L256.3,329.07L256.8,327.67L257.3,326.22L257.8,324.59L258.3,322.95L258.8,321.51L259.3,320.46L259.8,319.94L260.3,319.58L260.8,319.28L261.3,319.04L261.8,318.87L262.3,318.8L262.8,318.91L263.3,319.3L263.8,319.92L264.3,320.67L264.8,321.5L265.3,322.36L265.8,323.48L266.3,324.83L266.8,326.31L267.3,327.8L267.8,329.2L268.3,330.55L268.8,331.94L269.3,333.32L269.8,334.63L270.3,335.84L270.8,336.91L271.3,337.9L271.8,338.83L272.3,339.69L272.8,340.48L273.3,341.2L273.8,341.88L274.3,342.55L274.8,343.16L275.3,343.68L275.8,344.08L276.3,344.35L276.8,344.6L277.3,344.82" fill="none" stroke="#f020f0" stroke-width="1.05" stroke-linejoin="round"/>
<rect x="208" y="345.2" width="13.6" height="1.9" fill="#000"/>
<line x1="208.5" y1="345.2" x2="208.5" y2="348.8" stroke="#000" stroke-width="0.9" />
<line x1="211.4" y1="345.2" x2="211.4" y2="348.8" stroke="#000" stroke-width="0.9" />
<line x1="214.2" y1="345.2" x2="214.2" y2="348.8" stroke="#000" stroke-width="0.9" />
<line x1="215" y1="345.2" x2="215" y2="348.8" stroke="#000" stroke-width="0.9" />
<line x1="218.1" y1="345.2" x2="218.1" y2="348.8" stroke="#000" stroke-width="0.9" />
<line x1="220.8" y1="345.2" x2="220.8" y2="348.8" stroke="#000" stroke-width="0.9" />
<line x1="189.5" y1="345.2" x2="189.5" y2="348.4" stroke="#000" stroke-width="1" />
<line x1="240.5" y1="345.2" x2="240.5" y2="348.4" stroke="#000" stroke-width="1" />
<line x1="251.5" y1="345.2" x2="251.5" y2="348.4" stroke="#000" stroke-width="1" />
<line x1="285.5" y1="345.2" x2="285.5" y2="348.4" stroke="#000" stroke-width="1" />
<line x1="315.5" y1="345.2" x2="315.5" y2="348.4" stroke="#000" stroke-width="1" />
<line x1="193.5" y1="345.2" x2="193.5" y2="347.1" stroke="#333" stroke-width="0.9" />
<line x1="197.5" y1="345.2" x2="197.5" y2="347.1" stroke="#333" stroke-width="0.9" />
<line x1="200.5" y1="345.2" x2="200.5" y2="347.1" stroke="#333" stroke-width="0.9" />
<line x1="202.5" y1="345.2" x2="202.5" y2="347.1" stroke="#333" stroke-width="0.9" />
<line x1="226.5" y1="345.2" x2="226.5" y2="347.1" stroke="#333" stroke-width="0.9" />
<line x1="231.5" y1="345.2" x2="231.5" y2="347.1" stroke="#333" stroke-width="0.9" />
<line x1="234.5" y1="345.2" x2="234.5" y2="347.1" stroke="#333" stroke-width="0.9" />
<line x1="237.5" y1="345.2" x2="237.5" y2="347.1" stroke="#333" stroke-width="0.9" />
<line x1="242.5" y1="345.2" x2="242.5" y2="347.1" stroke="#333" stroke-width="0.9" />
<line x1="244.5" y1="345.2" x2="244.5" y2="347.1" stroke="#333" stroke-width="0.9" />
<line x1="246.5" y1="345.2" x2="246.5" y2="347.1" stroke="#333" stroke-width="0.9" />
<line x1="248.5" y1="345.2" x2="248.5" y2="347.1" stroke="#333" stroke-width="0.9" />
<line x1="261.5" y1="345.2" x2="261.5" y2="347.1" stroke="#333" stroke-width="0.9" />
<line x1="267.5" y1="345.2" x2="267.5" y2="347.1" stroke="#333" stroke-width="0.9" />
<line x1="271.5" y1="345.2" x2="271.5" y2="347.1" stroke="#333" stroke-width="0.9" />
<line x1="275.5" y1="345.2" x2="275.5" y2="347.1" stroke="#333" stroke-width="0.9" />
<line x1="277.5" y1="345.2" x2="277.5" y2="347.1" stroke="#333" stroke-width="0.9" />
<line x1="280.5" y1="345.2" x2="280.5" y2="347.1" stroke="#333" stroke-width="0.9" />
<line x1="282.5" y1="345.2" x2="282.5" y2="347.1" stroke="#333" stroke-width="0.9" />
<line x1="283.5" y1="345.2" x2="283.5" y2="347.1" stroke="#333" stroke-width="0.9" />
<line x1="294.5" y1="345.2" x2="294.5" y2="347.1" stroke="#333" stroke-width="0.9" />
<line x1="299.5" y1="345.2" x2="299.5" y2="347.1" stroke="#333" stroke-width="0.9" />
<line x1="303.5" y1="345.2" x2="303.5" y2="347.1" stroke="#333" stroke-width="0.9" />
<line x1="306.5" y1="345.2" x2="306.5" y2="347.1" stroke="#333" stroke-width="0.9" />
<line x1="308.5" y1="345.2" x2="308.5" y2="347.1" stroke="#333" stroke-width="0.9" />
<line x1="310.5" y1="345.2" x2="310.5" y2="347.1" stroke="#333" stroke-width="0.9" />
<line x1="312.5" y1="345.2" x2="312.5" y2="347.1" stroke="#333" stroke-width="0.9" />
<line x1="313.5" y1="345.2" x2="313.5" y2="347.1" stroke="#333" stroke-width="0.9" />
<line x1="324.5" y1="345.2" x2="324.5" y2="347.1" stroke="#333" stroke-width="0.9" />
<text x="216.7" y="357" font-size="5.1" font-weight="normal" text-anchor="middle" fill="#111" stroke="#111" stroke-width="0.1">0</text>
<text x="250.9" y="357" font-size="5.1" font-weight="normal" text-anchor="start" fill="#111" stroke="#111" stroke-width="0.1">10</text>
<text x="257.1" y="353.1" font-size="5.3" font-weight="normal" text-anchor="start" fill="#111" stroke="#111" stroke-width="0.1">3</text>
<text x="285.1" y="357" font-size="5.1" font-weight="normal" text-anchor="start" fill="#111" stroke="#111" stroke-width="0.1">10</text>
<text x="291.3" y="353.1" font-size="5.3" font-weight="normal" text-anchor="start" fill="#111" stroke="#111" stroke-width="0.1">4</text>
<text x="314.8" y="357" font-size="5.1" font-weight="normal" text-anchor="start" fill="#111" stroke="#111" stroke-width="0.1">10</text>
<text x="321" y="353.1" font-size="5.3" font-weight="normal" text-anchor="start" fill="#111" stroke="#111" stroke-width="0.1">5</text>
<text x="253.7" y="369.1" font-size="6.22" font-weight="normal" text-anchor="middle" fill="#111" >Comp-BV421-A :: CD86</text>
<rect x="536.5" y="204.5" width="146.8" height="138.9" fill="#fff" stroke="#a4a4a4" stroke-width="0.95"/>
<line x1="537" y1="236.9" x2="682.8" y2="236.9" stroke="#1e1e1e" stroke-width="0.9" stroke-opacity="0.42"/>
<path d="M572.6,236.9L572.6,236.9L573.1,236.46L573.6,235.62L574.1,234.49L574.6,233.2L575.1,231.48L575.6,229.17L576.1,226.6L576.6,223.53L577.1,220.1L577.6,217.17L578.1,214.49L578.6,212.21L579.1,210.93L579.6,210.18L580.1,209.6L580.6,209.26L581.1,209.23L581.6,209.55L582.1,210.14L582.6,210.93L583.1,212.25L583.6,214.59L584.1,217.21L584.6,219.86L585.1,222.76L585.6,225.1L586.1,226.78L586.6,228.24L587.1,229.49L587.6,230.51L588.1,231.29L588.6,231.97L589.1,232.56L589.6,233.08L590.1,233.51L590.6,233.88L591.1,234.17L591.6,234.44L592.1,234.69L592.6,234.91L593.1,235.11L593.6,235.27L594.1,235.41L594.6,235.52L595.1,235.62L595.6,235.71L596.1,235.79L596.6,235.87L597.1,235.94L597.6,236.01L598.1,236.08L598.6,236.14L599.1,236.19L599.6,236.24L600.1,236.28L600.6,236.32L601.1,236.36L601.6,236.38L602.1,236.41L602.6,236.43L603.1,236.45L603.6,236.47L604.1,236.49L604.6,236.51L605.1,236.53L605.6,236.54L606.1,236.56L606.6,236.57L607.1,236.58L607.6,236.6L608.1,236.61L608.6,236.62L609.1,236.63L609.6,236.64L610.1,236.65L610.6,236.66L611.1,236.67L611.6,236.69L612.1,236.7L612.6,236.71L613.1,236.72L613.6,236.73L614.1,236.74L614.6,236.76L615.1,236.77L615.6,236.78L616.1,236.79L616.6,236.8L617.1,236.81L617.6,236.82L618.1,236.83L618.6,236.84L619.1,236.85L619.6,236.86L620.1,236.87L620.6,236.88L621.1,236.89L621.6,236.89L621.6,236.9 Z" fill="#606060" fill-opacity="0.6" stroke="none"/>
<path d="M573.1,236.46L573.6,235.62L574.1,234.49L574.6,233.2L575.1,231.48L575.6,229.17L576.1,226.6L576.6,223.53L577.1,220.1L577.6,217.17L578.1,214.49L578.6,212.21L579.1,210.93L579.6,210.18L580.1,209.6L580.6,209.26L581.1,209.23L581.6,209.55L582.1,210.14L582.6,210.93L583.1,212.25L583.6,214.59L584.1,217.21L584.6,219.86L585.1,222.76L585.6,225.1L586.1,226.78L586.6,228.24L587.1,229.49L587.6,230.51L588.1,231.29L588.6,231.97L589.1,232.56L589.6,233.08L590.1,233.51L590.6,233.88L591.1,234.17L591.6,234.44L592.1,234.69L592.6,234.91L593.1,235.11L593.6,235.27L594.1,235.41L594.6,235.52L595.1,235.62L595.6,235.71L596.1,235.79L596.6,235.87L597.1,235.94L597.6,236.01L598.1,236.08L598.6,236.14L599.1,236.19L599.6,236.24L600.1,236.28L600.6,236.32L601.1,236.36L601.6,236.38L602.1,236.41L602.6,236.43L603.1,236.45L603.6,236.47L604.1,236.49L604.6,236.51L605.1,236.53L605.6,236.54L606.1,236.56L606.6,236.57L607.1,236.58L607.6,236.6L608.1,236.61L608.6,236.62L609.1,236.63L609.6,236.64" fill="none" stroke="#1e1e1e" stroke-width="1.05" stroke-linejoin="round"/>
<line x1="537" y1="251.9" x2="682.8" y2="251.9" stroke="#a0a0a0" stroke-width="0.9" stroke-opacity="0.18"/>
<path d="M574.4,251.9L574.4,251.9L574.9,251.81L575.4,251.57L575.9,251.21L576.4,250.78L576.9,250.3L577.4,249.61L577.9,248.68L578.4,247.55L578.9,246.27L579.4,244.67L579.9,242.57L580.4,240.48L580.9,238.66L581.4,236.9L581.9,235.22L582.4,233.61L582.9,232.09L583.4,230.51L583.9,228.98L584.4,227.69L584.9,226.8L585.4,226.19L585.9,225.65L586.4,225.24L586.9,225.02L587.4,225.09L587.9,225.61L588.4,226.45L588.9,227.46L589.4,228.52L589.9,229.97L590.4,231.78L590.9,233.66L591.4,235.32L591.9,236.66L592.4,237.91L592.9,239.06L593.4,240.09L593.9,240.96L594.4,241.74L594.9,242.44L595.4,243.08L595.9,243.66L596.4,244.2L596.9,244.69L597.4,245.16L597.9,245.6L598.4,246.02L598.9,246.41L599.4,246.77L599.9,247.1L600.4,247.4L600.9,247.68L601.4,247.95L601.9,248.21L602.4,248.45L602.9,248.68L603.4,248.9L603.9,249.1L604.4,249.3L604.9,249.47L605.4,249.64L605.9,249.79L606.4,249.94L606.9,250.08L607.4,250.22L607.9,250.35L608.4,250.47L608.9,250.59L609.4,250.7L609.9,250.81L610.4,250.91L610.9,251L611.4,251.08L611.9,251.16L612.4,251.23L612.9,251.29L613.4,251.36L613.9,251.42L614.4,251.48L614.9,251.54L615.4,251.59L615.9,251.65L616.4,251.7L616.9,251.74L617.4,251.78L617.9,251.82L618.4,251.85L618.9,251.87L619.4,251.89L619.4,251.9 Z" fill="#c8c8c8" fill-opacity="0.45" stroke="none"/>
<path d="M575.4,251.57L575.9,251.21L576.4,250.78L576.9,250.3L577.4,249.61L577.9,248.68L578.4,247.55L578.9,246.27L579.4,244.67L579.9,242.57L580.4,240.48L580.9,238.66L581.4,236.9L581.9,235.22L582.4,233.61L582.9,232.09L583.4,230.51L583.9,228.98L584.4,227.69L584.9,226.8L585.4,226.19L585.9,225.65L586.4,225.24L586.9,225.02L587.4,225.09L587.9,225.61L588.4,226.45L588.9,227.46L589.4,228.52L589.9,229.97L590.4,231.78L590.9,233.66L591.4,235.32L591.9,236.66L592.4,237.91L592.9,239.06L593.4,240.09L593.9,240.96L594.4,241.74L594.9,242.44L595.4,243.08L595.9,243.66L596.4,244.2L596.9,244.69L597.4,245.16L597.9,245.6L598.4,246.02L598.9,246.41L599.4,246.77L599.9,247.1L600.4,247.4L600.9,247.68L601.4,247.95L601.9,248.21L602.4,248.45L602.9,248.68L603.4,248.9L603.9,249.1L604.4,249.3L604.9,249.47L605.4,249.64L605.9,249.79L606.4,249.94L606.9,250.08L607.4,250.22L607.9,250.35L608.4,250.47L608.9,250.59L609.4,250.7L609.9,250.81L610.4,250.91L610.9,251L611.4,251.08L611.9,251.16L612.4,251.23L612.9,251.29L613.4,251.36L613.9,251.42L614.4,251.48L614.9,251.54L615.4,251.59L615.9,251.65" fill="none" stroke="#a0a0a0" stroke-width="1.05" stroke-linejoin="round"/>
<line x1="537" y1="267.2" x2="682.8" y2="267.2" stroke="#f82020" stroke-width="0.9" stroke-opacity="0.42"/>
<path d="M575.7,267.2L575.7,267.2L576.2,267.15L576.7,267L577.2,266.79L577.7,266.53L578.2,266.24L578.7,265.83L579.2,265.26L579.7,264.55L580.2,263.73L580.7,262.8L581.2,261.53L581.7,259.92L582.2,258.16L582.7,256.37L583.2,254.34L583.7,252.29L584.2,250.54L584.7,248.96L585.2,247.55L585.7,246.32L586.2,245.15L586.7,244.19L587.2,243.61L587.7,243.25L588.2,242.97L588.7,242.67L589.2,242.25L589.7,241.74L590.2,241.33L590.7,241.23L591.2,242.18L591.7,243.89L592.2,245.64L592.7,247.61L593.2,249.72L593.7,251.52L594.2,253.07L594.7,254.51L595.2,255.8L595.7,256.9L596.2,257.84L596.7,258.67L597.2,259.42L597.7,260.11L598.2,260.76L598.7,261.38L599.2,261.99L599.7,262.61L600.2,263.21L600.7,263.78L601.2,264.29L601.7,264.73L602.2,265.09L602.7,265.35L603.2,265.58L603.7,265.8L604.2,265.99L604.7,266.16L605.2,266.32L605.7,266.45L606.2,266.57L606.7,266.67L607.2,266.75L607.7,266.83L608.2,266.91L608.7,266.98L609.2,267.04L609.7,267.1L610.2,267.15L610.7,267.18L611.2,267.2L611.2,267.2 Z" fill="#de111a" fill-opacity="0.45" stroke="none"/>
<path d="M577.2,266.79L577.7,266.53L578.2,266.24L578.7,265.83L579.2,265.26L579.7,264.55L580.2,263.73L580.7,262.8L581.2,261.53L581.7,259.92L582.2,258.16L582.7,256.37L583.2,254.34L583.7,252.29L584.2,250.54L584.7,248.96L585.2,247.55L585.7,246.32L586.2,245.15L586.7,244.19L587.2,243.61L587.7,243.25L588.2,242.97L588.7,242.67L589.2,242.25L589.7,241.74L590.2,241.33L590.7,241.23L591.2,242.18L591.7,243.89L592.2,245.64L592.7,247.61L593.2,249.72L593.7,251.52L594.2,253.07L594.7,254.51L595.2,255.8L595.7,256.9L596.2,257.84L596.7,258.67L597.2,259.42L597.7,260.11L598.2,260.76L598.7,261.38L599.2,261.99L599.7,262.61L600.2,263.21L600.7,263.78L601.2,264.29L601.7,264.73L602.2,265.09L602.7,265.35L603.2,265.58L603.7,265.8L604.2,265.99L604.7,266.16L605.2,266.32L605.7,266.45L606.2,266.57L606.7,266.67L607.2,266.75L607.7,266.83L608.2,266.91" fill="none" stroke="#f82020" stroke-width="1.05" stroke-linejoin="round"/>
<line x1="537" y1="282.9" x2="682.8" y2="282.9" stroke="#f08028" stroke-width="0.9" stroke-opacity="0.42"/>
<path d="M577.9,282.9L577.9,282.9L578.4,282.85L578.9,282.71L579.4,282.5L579.9,282.23L580.4,281.91L580.9,281.55L581.4,281.13L581.9,280.52L582.4,279.72L582.9,278.72L583.4,277.53L583.9,275.64L584.4,273.28L584.9,271.01L585.4,268.69L585.9,266.43L586.4,264.42L586.9,262.49L587.4,260.84L587.9,259.69L588.4,258.7L588.9,257.8L589.4,257.07L589.9,256.58L590.4,256.4L590.9,256.47L591.4,256.67L591.9,256.97L592.4,257.37L592.9,257.84L593.4,258.38L593.9,259.05L594.4,260.22L594.9,261.7L595.4,263.3L595.9,264.79L596.4,266.29L596.9,267.85L597.4,269.39L597.9,270.83L598.4,272.16L598.9,273.47L599.4,274.69L599.9,275.76L600.4,276.63L600.9,277.4L601.4,278.1L601.9,278.74L602.4,279.29L602.9,279.76L603.4,280.14L603.9,280.48L604.4,280.79L604.9,281.07L605.4,281.32L605.9,281.54L606.4,281.73L606.9,281.9L607.4,282.05L607.9,282.2L608.4,282.34L608.9,282.47L609.4,282.59L609.9,282.7L610.4,282.78L610.9,282.85L611.4,282.89L611.4,282.9 Z" fill="#de7711" fill-opacity="0.45" stroke="none"/>
<path d="M579.4,282.5L579.9,282.23L580.4,281.91L580.9,281.55L581.4,281.13L581.9,280.52L582.4,279.72L582.9,278.72L583.4,277.53L583.9,275.64L584.4,273.28L584.9,271.01L585.4,268.69L585.9,266.43L586.4,264.42L586.9,262.49L587.4,260.84L587.9,259.69L588.4,258.7L588.9,257.8L589.4,257.07L589.9,256.58L590.4,256.4L590.9,256.47L591.4,256.67L591.9,256.97L592.4,257.37L592.9,257.84L593.4,258.38L593.9,259.05L594.4,260.22L594.9,261.7L595.4,263.3L595.9,264.79L596.4,266.29L596.9,267.85L597.4,269.39L597.9,270.83L598.4,272.16L598.9,273.47L599.4,274.69L599.9,275.76L600.4,276.63L600.9,277.4L601.4,278.1L601.9,278.74L602.4,279.29L602.9,279.76L603.4,280.14L603.9,280.48L604.4,280.79L604.9,281.07L605.4,281.32L605.9,281.54L606.4,281.73L606.9,281.9L607.4,282.05L607.9,282.2L608.4,282.34L608.9,282.47L609.4,282.59" fill="none" stroke="#f08028" stroke-width="1.05" stroke-linejoin="round"/>
<line x1="537" y1="298.2" x2="682.8" y2="298.2" stroke="#e2f018" stroke-width="0.9" stroke-opacity="0.42"/>
<path d="M573.5,298.2L573.5,298.2L574,298.08L574.5,297.83L575,297.48L575.5,297.06L576,296.6L576.5,295.99L577,295.19L577.5,294.25L578,293.21L578.5,292.06L579,290.7L579.5,289.16L580,287.47L580.5,285.63L581,283.39L581.5,281.03L582,278.84L582.5,276.63L583,274.67L583.5,273.32L584,272.17L584.5,271.17L585,270.46L585.5,270.2L586,270.49L586.5,271.25L587,272.28L587.5,273.38L588,274.47L588.5,275.77L589,277.2L589.5,278.63L590,279.95L590.5,281.23L591,282.49L591.5,283.67L592,284.71L592.5,285.62L593,286.46L593.5,287.24L594,287.96L594.5,288.61L595,289.19L595.5,289.71L596,290.19L596.5,290.63L597,291.04L597.5,291.42L598,291.78L598.5,292.11L599,292.42L599.5,292.72L600,293L600.5,293.26L601,293.51L601.5,293.75L602,293.98L602.5,294.2L603,294.42L603.5,294.62L604,294.82L604.5,295.02L605,295.21L605.5,295.39L606,295.56L606.5,295.73L607,295.9L607.5,296.06L608,296.21L608.5,296.36L609,296.51L609.5,296.66L610,296.81L610.5,296.96L611,297.11L611.5,297.25L612,297.38L612.5,297.5L613,297.6L613.5,297.7L614,297.77L614.5,297.84L615,297.9L615.5,297.96L616,298.01L616.5,298.06L617,298.1L617.5,298.14L618,298.17L618.5,298.19L619,298.2L619,298.2 Z" fill="#e7f427" fill-opacity="0.45" stroke="none"/>
<path d="M574.5,297.83L575,297.48L575.5,297.06L576,296.6L576.5,295.99L577,295.19L577.5,294.25L578,293.21L578.5,292.06L579,290.7L579.5,289.16L580,287.47L580.5,285.63L581,283.39L581.5,281.03L582,278.84L582.5,276.63L583,274.67L583.5,273.32L584,272.17L584.5,271.17L585,270.46L585.5,270.2L586,270.49L586.5,271.25L587,272.28L587.5,273.38L588,274.47L588.5,275.77L589,277.2L589.5,278.63L590,279.95L590.5,281.23L591,282.49L591.5,283.67L592,284.71L592.5,285.62L593,286.46L593.5,287.24L594,287.96L594.5,288.61L595,289.19L595.5,289.71L596,290.19L596.5,290.63L597,291.04L597.5,291.42L598,291.78L598.5,292.11L599,292.42L599.5,292.72L600,293L600.5,293.26L601,293.51L601.5,293.75L602,293.98L602.5,294.2L603,294.42L603.5,294.62L604,294.82L604.5,295.02L605,295.21L605.5,295.39L606,295.56L606.5,295.73L607,295.9L607.5,296.06L608,296.21L608.5,296.36L609,296.51L609.5,296.66L610,296.81L610.5,296.96L611,297.11L611.5,297.25L612,297.38L612.5,297.5L613,297.6L613.5,297.7L614,297.77L614.5,297.84L615,297.9" fill="none" stroke="#e2f018" stroke-width="1.05" stroke-linejoin="round"/>
<line x1="537" y1="313" x2="682.8" y2="313" stroke="#3cf02c" stroke-width="0.9" stroke-opacity="0.42"/>
<path d="M573.5,313L573.5,313L574,312.91L574.5,312.67L575,312.31L575.5,311.88L576,311.4L576.5,310.73L577,309.81L577.5,308.68L578,307.38L578.5,305.7L579,303.42L579.5,300.97L580,298.5L580.5,295.86L581,293.5L581.5,291.56L582,289.84L582.5,288.7L583,288.01L583.5,287.4L584,286.93L584.5,286.61L585,286.5L585.5,286.61L586,286.89L586.5,287.33L587,287.86L587.5,288.45L588,289.15L588.5,290.2L589,291.48L589.5,292.85L590,294.16L590.5,295.53L591,296.98L591.5,298.38L592,299.59L592.5,300.58L593,301.48L593.5,302.29L594,303.01L594.5,303.65L595,304.25L595.5,304.8L596,305.32L596.5,305.78L597,306.18L597.5,306.53L598,306.85L598.5,307.13L599,307.4L599.5,307.64L600,307.87L600.5,308.09L601,308.3L601.5,308.52L602,308.73L602.5,308.93L603,309.13L603.5,309.33L604,309.52L604.5,309.7L605,309.88L605.5,310.05L606,310.22L606.5,310.38L607,310.53L607.5,310.68L608,310.82L608.5,310.96L609,311.1L609.5,311.24L610,311.36L610.5,311.49L611,311.61L611.5,311.72L612,311.83L612.5,311.94L613,312.04L613.5,312.14L614,312.23L614.5,312.32L615,312.41L615.5,312.5L616,312.58L616.5,312.66L617,312.74L617.5,312.81L618,312.88L618.5,312.94L619,313L619,313 Z" fill="#3eeb2c" fill-opacity="0.45" stroke="none"/>
<path d="M574.5,312.67L575,312.31L575.5,311.88L576,311.4L576.5,310.73L577,309.81L577.5,308.68L578,307.38L578.5,305.7L579,303.42L579.5,300.97L580,298.5L580.5,295.86L581,293.5L581.5,291.56L582,289.84L582.5,288.7L583,288.01L583.5,287.4L584,286.93L584.5,286.61L585,286.5L585.5,286.61L586,286.89L586.5,287.33L587,287.86L587.5,288.45L588,289.15L588.5,290.2L589,291.48L589.5,292.85L590,294.16L590.5,295.53L591,296.98L591.5,298.38L592,299.59L592.5,300.58L593,301.48L593.5,302.29L594,303.01L594.5,303.65L595,304.25L595.5,304.8L596,305.32L596.5,305.78L597,306.18L597.5,306.53L598,306.85L598.5,307.13L599,307.4L599.5,307.64L600,307.87L600.5,308.09L601,308.3L601.5,308.52L602,308.73L602.5,308.93L603,309.13L603.5,309.33L604,309.52L604.5,309.7L605,309.88L605.5,310.05L606,310.22L606.5,310.38L607,310.53L607.5,310.68L608,310.82L608.5,310.96L609,311.1L609.5,311.24L610,311.36L610.5,311.49L611,311.61L611.5,311.72L612,311.83L612.5,311.94L613,312.04L613.5,312.14L614,312.23L614.5,312.32L615,312.41L615.5,312.5L616,312.58L616.5,312.66L617,312.74" fill="none" stroke="#3cf02c" stroke-width="1.05" stroke-linejoin="round"/>
<line x1="537" y1="328.3" x2="682.8" y2="328.3" stroke="#3a8cf0" stroke-width="0.9" stroke-opacity="0.42"/>
<path d="M577.2,328.3L577.2,328.3L577.7,328.18L578.2,328.04L578.7,327.87L579.2,327.68L579.7,327.47L580.2,327.24L580.7,327L581.2,326.75L581.7,326.47L582.2,326.16L582.7,325.81L583.2,325.43L583.7,324.99L584.2,324.49L584.7,323.85L585.2,323.04L585.7,322.11L586.2,321.12L586.7,320.1L587.2,319.02L587.7,317.78L588.2,316.53L588.7,315.4L589.2,314.42L589.7,313.49L590.2,312.66L590.7,312L591.2,311.56L591.7,311.24L592.2,310.95L592.7,310.59L593.2,310.03L593.7,309.26L594.2,308.48L594.7,307.88L595.2,307.54L595.7,307.27L596.2,307.05L596.7,306.84L597.2,306.64L597.7,306.41L598.2,306.18L598.7,305.96L599.2,305.73L599.7,305.48L600.2,305.2L600.7,304.82L601.2,304.31L601.7,303.77L602.2,303.24L602.7,302.81L603.2,302.55L603.7,302.52L604.2,302.74L604.7,303.12L605.2,303.55L605.7,303.98L606.2,304.6L606.7,305.25L607.2,305.71L607.7,305.78L608.2,305.63L608.7,305.41L609.2,305.24L609.7,305.24L610.2,305.65L610.7,306.35L611.2,307.17L611.7,307.95L612.2,308.8L612.7,309.76L613.2,310.75L613.7,311.69L614.2,312.5L614.7,313.18L615.2,313.8L615.7,314.38L616.2,314.93L616.7,315.47L617.2,316.03L617.7,316.62L618.2,317.24L618.7,317.89L619.2,318.53L619.7,319.17L620.2,319.79L620.7,320.38L621.2,320.93L621.7,321.47L622.2,322L622.7,322.51L623.2,323.01L623.7,323.48L624.2,323.94L624.7,324.36L625.2,324.76L625.7,325.14L626.2,325.53L626.7,325.89L627.2,326.24L627.7,326.56L628.2,326.84L628.7,327.08L629.2,327.27L629.7,327.46L630.2,327.63L630.7,327.79L631.2,327.94L631.7,328.07L632.2,328.17L632.7,328.25L633.2,328.3L633.2,328.3 Z" fill="#2792f4" fill-opacity="0.45" stroke="none"/>
<path d="M578.2,328.04L578.7,327.87L579.2,327.68L579.7,327.47L580.2,327.24L580.7,327L581.2,326.75L581.7,326.47L582.2,326.16L582.7,325.81L583.2,325.43L583.7,324.99L584.2,324.49L584.7,323.85L585.2,323.04L585.7,322.11L586.2,321.12L586.7,320.1L587.2,319.02L587.7,317.78L588.2,316.53L588.7,315.4L589.2,314.42L589.7,313.49L590.2,312.66L590.7,312L591.2,311.56L591.7,311.24L592.2,310.95L592.7,310.59L593.2,310.03L593.7,309.26L594.2,308.48L594.7,307.88L595.2,307.54L595.7,307.27L596.2,307.05L596.7,306.84L597.2,306.64L597.7,306.41L598.2,306.18L598.7,305.96L599.2,305.73L599.7,305.48L600.2,305.2L600.7,304.82L601.2,304.31L601.7,303.77L602.2,303.24L602.7,302.81L603.2,302.55L603.7,302.52L604.2,302.74L604.7,303.12L605.2,303.55L605.7,303.98L606.2,304.6L606.7,305.25L607.2,305.71L607.7,305.78L608.2,305.63L608.7,305.41L609.2,305.24L609.7,305.24L610.2,305.65L610.7,306.35L611.2,307.17L611.7,307.95L612.2,308.8L612.7,309.76L613.2,310.75L613.7,311.69L614.2,312.5L614.7,313.18L615.2,313.8L615.7,314.38L616.2,314.93L616.7,315.47L617.2,316.03L617.7,316.62L618.2,317.24L618.7,317.89L619.2,318.53L619.7,319.17L620.2,319.79L620.7,320.38L621.2,320.93L621.7,321.47L622.2,322L622.7,322.51L623.2,323.01L623.7,323.48L624.2,323.94L624.7,324.36L625.2,324.76L625.7,325.14L626.2,325.53L626.7,325.89L627.2,326.24L627.7,326.56L628.2,326.84L628.7,327.08L629.2,327.27L629.7,327.46L630.2,327.63L630.7,327.79L631.2,327.94" fill="none" stroke="#3a8cf0" stroke-width="1.05" stroke-linejoin="round"/>
<line x1="537" y1="343.3" x2="682.8" y2="343.3" stroke="#f020f0" stroke-width="0.9" stroke-opacity="0.42"/>
<path d="M576.5,343.3L576.5,343.3L577,343.27L577.5,343.17L578,343.02L578.5,342.82L579,342.57L579.5,342.29L580,341.97L580.5,341.48L581,340.63L581.5,339.52L582,338.29L582.5,337.06L583,335.91L583.5,334.71L584,333.46L584.5,332.18L585,330.9L585.5,329.65L586,328.33L586.5,326.96L587,325.62L587.5,324.39L588,323.37L588.5,322.56L589,321.82L589.5,321.15L590,320.57L590.5,320.06L591,319.63L591.5,319.21L592,318.8L592.5,318.42L593,318.12L593.5,317.9L594,317.8L594.5,317.85L595,318.04L595.5,318.31L596,318.63L596.5,318.94L597,319.2L597.5,319.42L598,319.64L598.5,319.88L599,320.16L599.5,320.5L600,320.99L600.5,321.65L601,322.4L601.5,323.2L602,324.07L602.5,325.05L603,326.1L603.5,327.14L604,328.13L604.5,329.03L605,329.9L605.5,330.74L606,331.56L606.5,332.36L607,333.14L607.5,333.9L608,334.65L608.5,335.39L609,336.11L609.5,336.81L610,337.48L610.5,338.12L611,338.72L611.5,339.3L612,339.88L612.5,340.44L613,340.96L613.5,341.41L614,341.78L614.5,342.07L615,342.34L615.5,342.59L616,342.82L616.5,343.02L617,343.17L617.5,343.27L617.5,343.3 Z" fill="#ef0def" fill-opacity="0.45" stroke="none"/>
<path d="M578,343.02L578.5,342.82L579,342.57L579.5,342.29L580,341.97L580.5,341.48L581,340.63L581.5,339.52L582,338.29L582.5,337.06L583,335.91L583.5,334.71L584,333.46L584.5,332.18L585,330.9L585.5,329.65L586,328.33L586.5,326.96L587,325.62L587.5,324.39L588,323.37L588.5,322.56L589,321.82L589.5,321.15L590,320.57L590.5,320.06L591,319.63L591.5,319.21L592,318.8L592.5,318.42L593,318.12L593.5,317.9L594,317.8L594.5,317.85L595,318.04L595.5,318.31L596,318.63L596.5,318.94L597,319.2L597.5,319.42L598,319.64L598.5,319.88L599,320.16L599.5,320.5L600,320.99L600.5,321.65L601,322.4L601.5,323.2L602,324.07L602.5,325.05L603,326.1L603.5,327.14L604,328.13L604.5,329.03L605,329.9L605.5,330.74L606,331.56L606.5,332.36L607,333.14L607.5,333.9L608,334.65L608.5,335.39L609,336.11L609.5,336.81L610,337.48L610.5,338.12L611,338.72L611.5,339.3L612,339.88L612.5,340.44L613,340.96L613.5,341.41L614,341.78L614.5,342.07L615,342.34L615.5,342.59L616,342.82L616.5,343.02" fill="none" stroke="#f020f0" stroke-width="1.05" stroke-linejoin="round"/>
<rect x="565" y="343.4" width="8" height="1.9" fill="#000"/>
<line x1="565.5" y1="343.4" x2="565.5" y2="347" stroke="#000" stroke-width="0.9" />
<line x1="568.7" y1="343.4" x2="568.7" y2="347" stroke="#000" stroke-width="0.9" />
<line x1="572.4" y1="343.4" x2="572.4" y2="347" stroke="#000" stroke-width="0.9" />
<line x1="542.5" y1="343.4" x2="542.5" y2="346.6" stroke="#000" stroke-width="1" />
<line x1="595.5" y1="343.4" x2="595.5" y2="346.6" stroke="#000" stroke-width="1" />
<line x1="635.5" y1="343.4" x2="635.5" y2="346.6" stroke="#000" stroke-width="1" />
<line x1="668.5" y1="343.4" x2="668.5" y2="346.6" stroke="#000" stroke-width="1" />
<line x1="544.5" y1="343.4" x2="544.5" y2="345.3" stroke="#333" stroke-width="0.9" />
<line x1="547.5" y1="343.4" x2="547.5" y2="345.3" stroke="#333" stroke-width="0.9" />
<line x1="550.5" y1="343.4" x2="550.5" y2="345.3" stroke="#333" stroke-width="0.9" />
<line x1="552.5" y1="343.4" x2="552.5" y2="345.3" stroke="#333" stroke-width="0.9" />
<line x1="554.5" y1="343.4" x2="554.5" y2="345.3" stroke="#333" stroke-width="0.9" />
<line x1="557.5" y1="343.4" x2="557.5" y2="345.3" stroke="#333" stroke-width="0.9" />
<line x1="560.5" y1="343.4" x2="560.5" y2="345.3" stroke="#333" stroke-width="0.9" />
<line x1="562.5" y1="343.4" x2="562.5" y2="345.3" stroke="#333" stroke-width="0.9" />
<line x1="576.5" y1="343.4" x2="576.5" y2="345.3" stroke="#333" stroke-width="0.9" />
<line x1="578.5" y1="343.4" x2="578.5" y2="345.3" stroke="#333" stroke-width="0.9" />
<line x1="581.5" y1="343.4" x2="581.5" y2="345.3" stroke="#333" stroke-width="0.9" />
<line x1="584.5" y1="343.4" x2="584.5" y2="345.3" stroke="#333" stroke-width="0.9" />
<line x1="587.5" y1="343.4" x2="587.5" y2="345.3" stroke="#333" stroke-width="0.9" />
<line x1="589.5" y1="343.4" x2="589.5" y2="345.3" stroke="#333" stroke-width="0.9" />
<line x1="591.5" y1="343.4" x2="591.5" y2="345.3" stroke="#333" stroke-width="0.9" />
<line x1="607.5" y1="343.4" x2="607.5" y2="345.3" stroke="#333" stroke-width="0.9" />
<line x1="614.5" y1="343.4" x2="614.5" y2="345.3" stroke="#333" stroke-width="0.9" />
<line x1="619.5" y1="343.4" x2="619.5" y2="345.3" stroke="#333" stroke-width="0.9" />
<line x1="623.5" y1="343.4" x2="623.5" y2="345.3" stroke="#333" stroke-width="0.9" />
<line x1="626.5" y1="343.4" x2="626.5" y2="345.3" stroke="#333" stroke-width="0.9" />
<line x1="629.5" y1="343.4" x2="629.5" y2="345.3" stroke="#333" stroke-width="0.9" />
<line x1="631.5" y1="343.4" x2="631.5" y2="345.3" stroke="#333" stroke-width="0.9" />
<line x1="633.5" y1="343.4" x2="633.5" y2="345.3" stroke="#333" stroke-width="0.9" />
<line x1="645.5" y1="343.4" x2="645.5" y2="345.3" stroke="#333" stroke-width="0.9" />
<line x1="651.5" y1="343.4" x2="651.5" y2="345.3" stroke="#333" stroke-width="0.9" />
<line x1="655.5" y1="343.4" x2="655.5" y2="345.3" stroke="#333" stroke-width="0.9" />
<line x1="658.5" y1="343.4" x2="658.5" y2="345.3" stroke="#333" stroke-width="0.9" />
<line x1="661.5" y1="343.4" x2="661.5" y2="345.3" stroke="#333" stroke-width="0.9" />
<line x1="663.5" y1="343.4" x2="663.5" y2="345.3" stroke="#333" stroke-width="0.9" />
<line x1="665.5" y1="343.4" x2="665.5" y2="345.3" stroke="#333" stroke-width="0.9" />
<line x1="667.5" y1="343.4" x2="667.5" y2="345.3" stroke="#333" stroke-width="0.9" />
<line x1="679.5" y1="343.4" x2="679.5" y2="345.3" stroke="#333" stroke-width="0.9" />
<text x="540.5" y="355.6" font-size="5.1" font-weight="normal" text-anchor="start" fill="#111" stroke="#111" stroke-width="0.1">-10</text>
<text x="550.1" y="351.7" font-size="5.3" font-weight="normal" text-anchor="start" fill="#111" stroke="#111" stroke-width="0.1">3</text>
<text x="571.5" y="355.6" font-size="5.1" font-weight="normal" text-anchor="middle" fill="#111" stroke="#111" stroke-width="0.1">0</text>
<text x="595.3" y="355.6" font-size="5.1" font-weight="normal" text-anchor="start" fill="#111" stroke="#111" stroke-width="0.1">10</text>
<text x="601.5" y="351.7" font-size="5.3" font-weight="normal" text-anchor="start" fill="#111" stroke="#111" stroke-width="0.1">3</text>
<text x="635.1" y="355.6" font-size="5.1" font-weight="normal" text-anchor="start" fill="#111" stroke="#111" stroke-width="0.1">10</text>
<text x="641.3" y="351.7" font-size="5.3" font-weight="normal" text-anchor="start" fill="#111" stroke="#111" stroke-width="0.1">4</text>
<text x="668.6" y="355.6" font-size="5.1" font-weight="normal" text-anchor="start" fill="#111" stroke="#111" stroke-width="0.1">10</text>
<text x="674.8" y="351.7" font-size="5.3" font-weight="normal" text-anchor="start" fill="#111" stroke="#111" stroke-width="0.1">5</text>
<text x="606.4" y="368.4" font-size="6.45" font-weight="normal" text-anchor="middle" fill="#111" >Comp-FITC-A :: CD80</text>
</g>
</svg></div>
</body></html>
